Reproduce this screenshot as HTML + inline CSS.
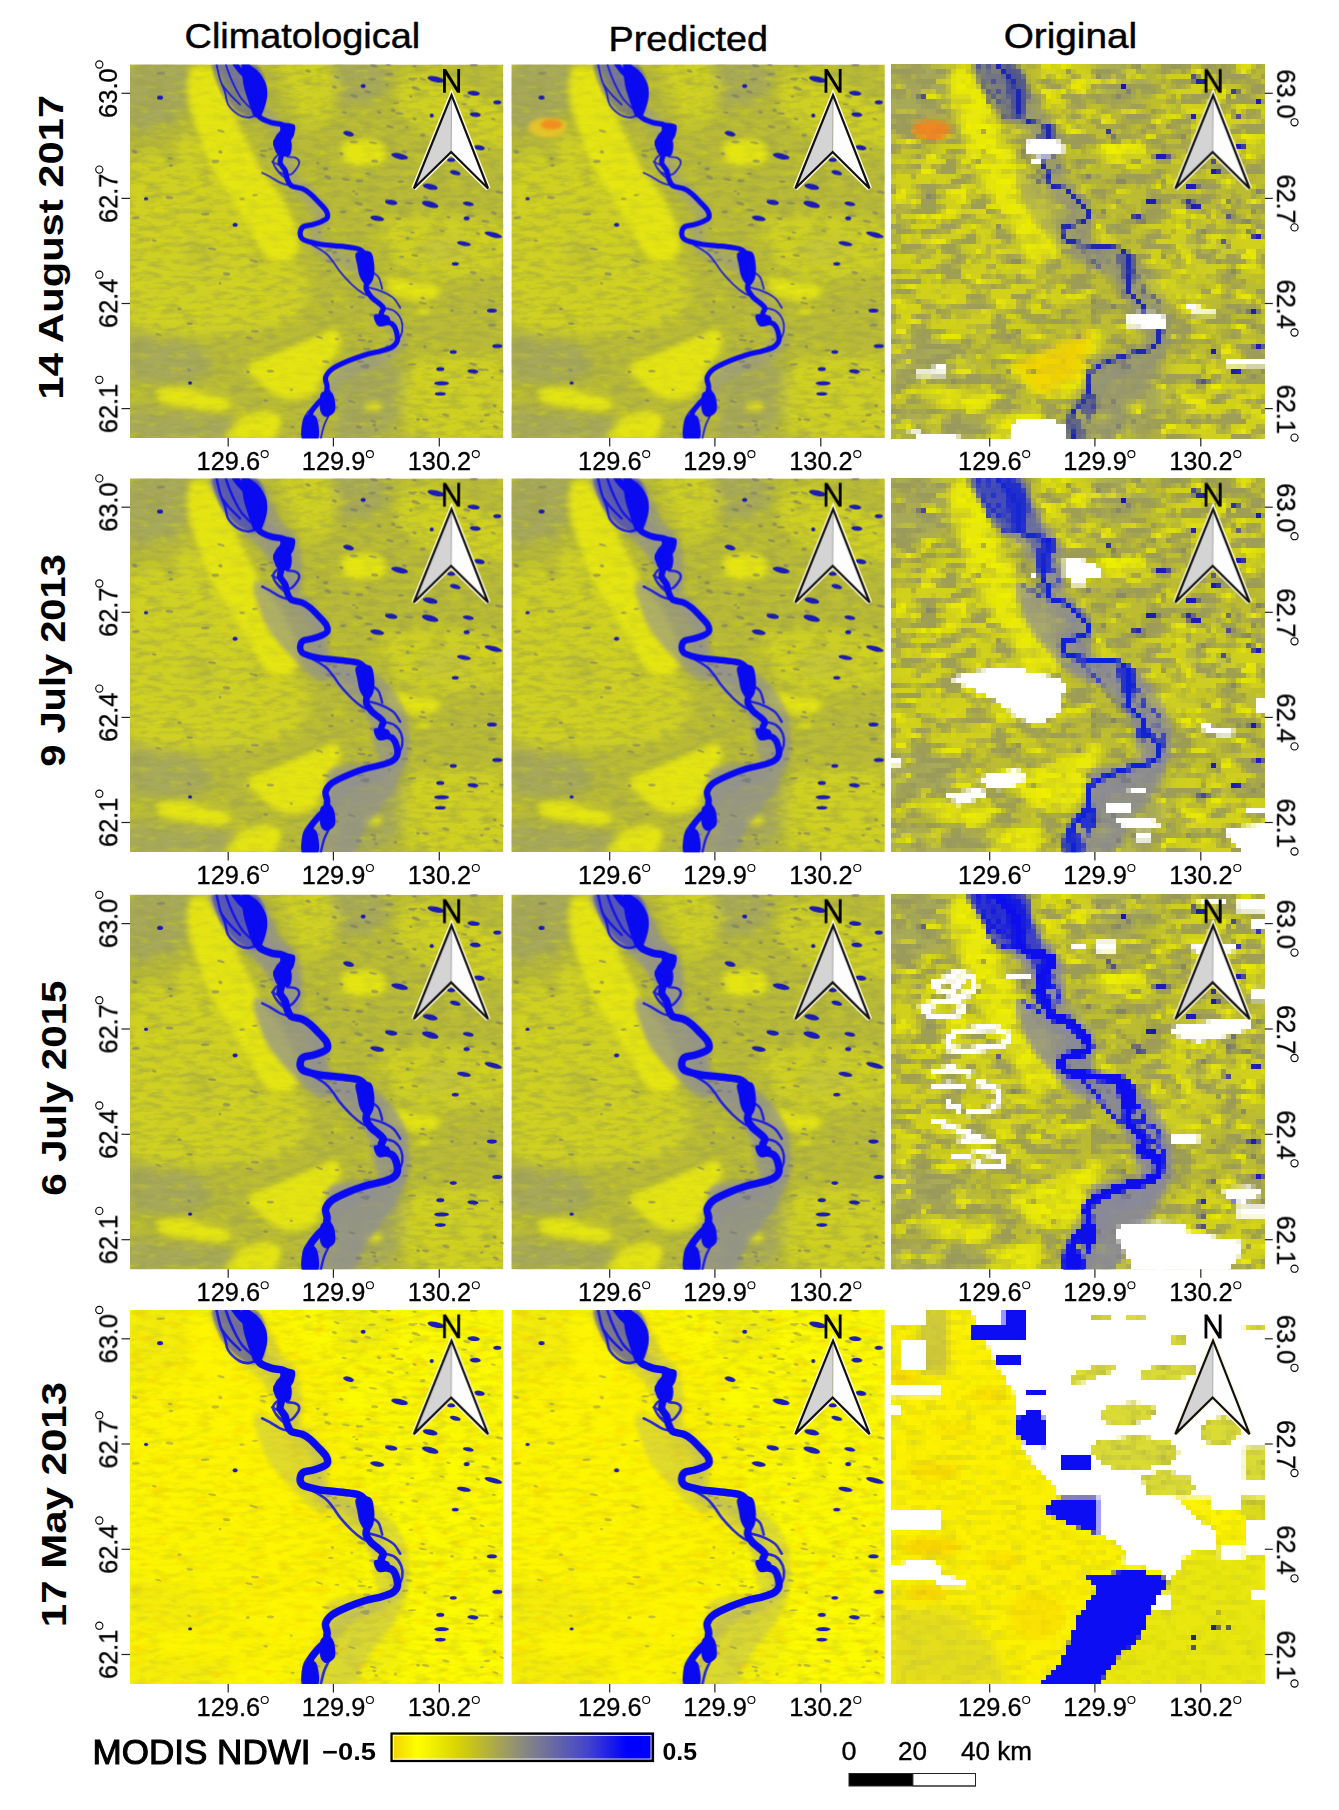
<!DOCTYPE html><html><head><meta charset="utf-8"><style>html,body{margin:0;padding:0;background:#fff;overflow:hidden;}svg{display:block;}</style></head><body>
<svg width="1339" height="1810" viewBox="0 0 1339 1810" style="font-family:'Liberation Sans',sans-serif">
<rect width="1339" height="1810" fill="#fff"/>
<defs>
<filter id="b0_6" x="-30%" y="-30%" width="160%" height="160%"><feGaussianBlur stdDeviation="0.6"/></filter>
<filter id="b1" x="-30%" y="-30%" width="160%" height="160%"><feGaussianBlur stdDeviation="1"/></filter>
<filter id="b1_5" x="-30%" y="-30%" width="160%" height="160%"><feGaussianBlur stdDeviation="1.5"/></filter>
<filter id="b2" x="-30%" y="-30%" width="160%" height="160%"><feGaussianBlur stdDeviation="2"/></filter>
<filter id="b3" x="-30%" y="-30%" width="160%" height="160%"><feGaussianBlur stdDeviation="3"/></filter>
<filter id="b4" x="-30%" y="-30%" width="160%" height="160%"><feGaussianBlur stdDeviation="4"/></filter>
<filter id="b6" x="-30%" y="-30%" width="160%" height="160%"><feGaussianBlur stdDeviation="6"/></filter>
<filter id="b8" x="-30%" y="-30%" width="160%" height="160%"><feGaussianBlur stdDeviation="8"/></filter>
<clipPath id="pc"><rect width="373" height="373"/></clipPath>
<path id="river" d="M104.0,-2.0 C105.0,-0.7 107.7,3.3 110.0,6.0 C112.3,8.7 115.5,11.0 118.0,14.0 C120.5,17.0 123.5,20.3 125.0,24.0 C126.5,27.7 126.7,32.3 127.0,36.0 C127.3,39.7 126.5,43.2 127.0,46.0 C127.5,48.8 127.7,51.0 130.0,53.0 C132.3,55.0 137.3,56.8 141.0,58.0 C144.7,59.2 149.2,59.0 152.0,60.0 C154.8,61.0 157.3,62.0 158.0,64.0 C158.7,66.0 157.0,69.3 156.0,72.0 C155.0,74.7 152.7,77.3 152.0,80.0 C151.3,82.7 152.3,85.0 152.0,88.0 C151.7,91.0 149.5,95.0 150.0,98.0 C150.5,101.0 153.8,103.3 155.0,106.0 C156.2,108.7 156.0,111.5 157.0,114.0 C158.0,116.5 158.5,119.3 161.0,121.0 C163.5,122.7 168.8,122.7 172.0,124.0 C175.2,125.3 177.3,126.8 180.0,129.0 C182.7,131.2 185.3,134.2 188.0,137.0 C190.7,139.8 194.5,143.3 196.0,146.0 C197.5,148.7 197.8,151.2 197.0,153.0 C196.2,154.8 193.5,155.8 191.0,157.0 C188.5,158.2 185.0,159.2 182.0,160.0 C179.0,160.8 175.0,160.7 173.0,162.0 C171.0,163.3 170.2,166.0 170.0,168.0 C169.8,170.0 170.5,172.5 172.0,174.0 C173.5,175.5 176.0,176.1 179.0,177.0 C182.0,177.9 185.7,178.8 190.0,179.5 C194.3,180.2 200.0,180.5 205.0,181.0 C210.0,181.5 215.8,181.9 220.0,182.6 C224.2,183.3 227.3,183.4 230.0,185.0 C232.7,186.6 234.7,188.7 236.0,192.0 C237.3,195.3 237.8,201.0 238.0,205.0 C238.2,209.0 237.3,212.8 237.0,216.0 C236.7,219.2 235.3,221.3 236.0,224.0 C236.7,226.7 239.2,229.8 241.0,232.0 C242.8,234.2 245.0,235.2 247.0,237.0 C249.0,238.8 252.3,241.0 253.0,243.0 C253.7,245.0 250.8,246.8 251.0,249.0 C251.2,251.2 252.2,254.3 254.0,256.0 C255.8,257.7 260.0,257.3 262.0,259.0 C264.0,260.7 265.2,263.2 266.0,266.0 C266.8,268.8 267.7,273.3 267.0,276.0 C266.3,278.7 264.7,280.3 262.0,282.0 C259.3,283.7 255.6,284.7 251.0,286.0 C246.4,287.3 240.0,288.3 234.5,290.0 C229.0,291.7 223.4,293.7 218.0,296.0 C212.6,298.3 205.8,301.2 202.0,304.0 C198.2,306.8 196.2,309.7 195.4,312.7 C194.6,315.7 197.1,318.9 197.0,322.0 C196.9,325.1 196.5,328.3 195.0,331.0 C193.5,333.7 190.3,335.3 188.0,338.0 C185.7,340.7 182.5,344.0 181.0,347.0 C179.5,350.0 179.2,353.2 179.0,356.0 C178.8,358.8 179.3,360.7 180.0,364.0 C180.7,367.3 182.5,374.0 183.0,376.0"/>
<g id="braids"><path d="M86.0,-2.0 C86.7,0.8 88.5,10.0 90.0,15.0 C91.5,20.0 93.7,23.8 95.0,28.0 C96.3,32.2 95.8,36.3 98.0,40.0 C100.2,43.7 104.7,47.8 108.0,50.0 C111.3,52.2 114.8,53.0 118.0,53.0 C121.2,53.0 125.5,50.5 127.0,50.0"/><path d="M95.0,-2.0 C95.8,0.3 98.2,7.5 100.0,12.0 C101.8,16.5 104.0,21.2 106.0,25.0 C108.0,28.8 109.5,31.8 112.0,35.0 C114.5,38.2 119.5,42.5 121.0,44.0"/><path d="M92.0,20.0 C93.3,21.7 97.0,26.7 100.0,30.0 C103.0,33.3 108.3,38.3 110.0,40.0"/><path d="M142.0,97.0 C143.0,97.5 146.2,99.3 148.0,100.0 C149.8,100.7 152.2,100.8 153.0,101.0"/><path d="M157.0,92.0 C158.3,92.2 163.0,92.2 165.0,93.0 C167.0,93.8 168.7,95.3 169.0,97.0 C169.3,98.7 168.5,100.8 167.0,103.0 C165.5,105.2 162.8,109.2 160.0,110.0 C157.2,110.8 152.3,109.0 150.0,108.0 C147.7,107.0 146.7,104.7 146.0,104.0"/><path d="M152.0,88.0 C151.0,88.7 147.5,90.3 146.0,92.0 C144.5,93.7 142.5,95.3 143.0,98.0 C143.5,100.7 146.8,105.3 149.0,108.0 C151.2,110.7 154.8,113.0 156.0,114.0"/><path d="M182.0,180.0 C184.2,181.3 191.5,185.2 195.0,188.0 C198.5,190.8 200.5,193.8 203.0,197.0 C205.5,200.2 206.8,203.2 210.0,207.0 C213.2,210.8 218.3,216.5 222.0,220.0 C225.7,223.5 228.8,226.0 232.0,228.0 C235.2,230.0 239.5,231.3 241.0,232.0"/><path d="M253.0,243.0 C254.8,243.5 261.0,244.0 264.0,246.0 C267.0,248.0 269.7,251.7 271.0,255.0 C272.3,258.3 272.5,262.5 272.0,266.0 C271.5,269.5 268.7,274.3 268.0,276.0"/><path d="M236.0,222.0 C238.3,222.7 245.5,224.2 250.0,226.0 C254.5,227.8 259.7,230.2 263.0,233.0 C266.3,235.8 268.8,241.3 270.0,243.0"/><path d="M238.0,205.0 C239.7,206.2 245.7,208.8 248.0,212.0 C250.3,215.2 251.3,222.0 252.0,224.0"/><path d="M197.0,322.0 C198.0,324.0 202.5,329.8 203.0,334.0 C203.5,338.2 201.5,342.7 200.0,347.0 C198.5,351.3 195.7,355.2 194.0,360.0 C192.3,364.8 190.7,373.3 190.0,376.0"/><path d="M188.0,338.0 C186.2,339.7 179.5,344.3 177.0,348.0 C174.5,351.7 173.2,355.3 173.0,360.0 C172.8,364.7 175.5,373.3 176.0,376.0"/><path d="M160.0,121.0 C158.3,120.5 153.3,119.5 150.0,118.0 C146.7,116.5 143.0,113.7 140.0,112.0 C137.0,110.3 133.3,108.7 132.0,108.0"/></g>
<g id="blobs"><path d="M112.0,-2.0 C113.5,-4.7 119.0,0.2 122.0,2.0 C125.0,3.8 127.7,6.0 130.0,9.0 C132.3,12.0 134.8,16.2 136.0,20.0 C137.2,23.8 137.3,28.0 137.0,32.0 C136.7,36.0 135.2,40.7 134.0,44.0 C132.8,47.3 131.7,50.7 130.0,52.0 C128.3,53.3 125.7,53.7 124.0,52.0 C122.3,50.3 121.3,45.7 120.0,42.0 C118.7,38.3 117.2,34.0 116.0,30.0 C114.8,26.0 113.7,23.3 113.0,18.0 C112.3,12.7 110.5,0.7 112.0,-2.0Z"/><path d="M151.0,59.0 C153.3,58.0 161.8,58.2 164.0,60.0 C166.2,61.8 164.7,67.0 164.0,70.0 C163.3,73.0 160.8,75.2 160.0,78.0 C159.2,80.8 160.7,85.3 159.0,87.0 C157.3,88.7 152.7,89.2 150.0,88.0 C147.3,86.8 143.7,82.8 143.0,80.0 C142.3,77.2 144.8,73.3 146.0,71.0 C147.2,68.7 149.2,68.0 150.0,66.0 C150.8,64.0 148.7,60.0 151.0,59.0Z"/><path d="M144.0,75.0 C146.5,73.2 157.3,72.5 160.0,75.0 C162.7,77.5 161.7,87.3 160.0,90.0 C158.3,92.7 152.5,91.7 150.0,91.0 C147.5,90.3 146.0,88.7 145.0,86.0 C144.0,83.3 141.5,76.8 144.0,75.0Z"/><path d="M226.0,188.0 C228.2,185.8 237.0,185.0 240.0,187.0 C243.0,189.0 243.5,195.5 244.0,200.0 C244.5,204.5 244.2,210.5 243.0,214.0 C241.8,217.5 239.2,221.2 237.0,221.0 C234.8,220.8 231.7,216.5 230.0,213.0 C228.3,209.5 227.7,204.2 227.0,200.0 C226.3,195.8 223.8,190.2 226.0,188.0Z"/><path d="M244.0,250.0 C245.7,248.3 255.5,249.5 258.0,251.0 C260.5,252.5 260.7,257.3 259.0,259.0 C257.3,260.7 250.5,262.5 248.0,261.0 C245.5,259.5 242.3,251.7 244.0,250.0Z"/><path d="M191.0,328.0 C193.0,325.2 199.7,325.2 202.0,328.0 C204.3,330.8 206.0,341.0 205.0,345.0 C204.0,349.0 198.5,352.0 196.0,352.0 C193.5,352.0 190.8,349.0 190.0,345.0 C189.2,341.0 189.0,330.8 191.0,328.0Z"/><path d="M174.0,352.0 C176.3,348.3 183.7,348.3 186.0,352.0 C188.3,355.7 190.3,370.3 188.0,374.0 C185.7,377.7 174.3,377.7 172.0,374.0 C169.7,370.3 171.7,355.7 174.0,352.0Z"/></g>
<g id="lakes"><ellipse cx="305.7" cy="14.7" rx="8.5" ry="2.8" transform="rotate(12 305.7 14.7)"/><ellipse cx="343.4" cy="28.6" rx="6.2" ry="2.3" transform="rotate(5 343.4 28.6)"/><ellipse cx="367" cy="37.7" rx="4" ry="2" transform="rotate(0 367 37.7)"/><ellipse cx="233" cy="21.6" rx="2.5" ry="2" transform="rotate(0 233 21.6)"/><ellipse cx="345" cy="50" rx="5.5" ry="2.3" transform="rotate(5 345 50)"/><ellipse cx="301.5" cy="51" rx="2" ry="2" transform="rotate(0 301.5 51)"/><ellipse cx="218.4" cy="69" rx="5.5" ry="2.5" transform="rotate(15 218.4 69)"/><ellipse cx="269.4" cy="91.5" rx="8.5" ry="2.8" transform="rotate(12 269.4 91.5)"/><ellipse cx="349" cy="83" rx="5.5" ry="2.5" transform="rotate(8 349 83)"/><ellipse cx="321" cy="95" rx="4" ry="2" transform="rotate(0 321 95)"/><ellipse cx="325" cy="108" rx="5.5" ry="2.2" transform="rotate(15 325 108)"/><ellipse cx="300" cy="122" rx="7.5" ry="2.8" transform="rotate(12 300 122)"/><ellipse cx="261" cy="137.6" rx="6.2" ry="2.5" transform="rotate(8 261 137.6)"/><ellipse cx="300" cy="139.7" rx="8.5" ry="3" transform="rotate(15 300 139.7)"/><ellipse cx="247" cy="153.6" rx="7" ry="2.5" transform="rotate(10 247 153.6)"/><ellipse cx="338" cy="139" rx="5.5" ry="2" transform="rotate(10 338 139)"/><ellipse cx="336.4" cy="153.6" rx="3" ry="2" transform="rotate(0 336.4 153.6)"/><ellipse cx="363" cy="170" rx="9" ry="2.5" transform="rotate(15 363 170)"/><ellipse cx="333.6" cy="178.8" rx="7" ry="2.2" transform="rotate(10 333.6 178.8)"/><ellipse cx="310" cy="304" rx="4" ry="2" transform="rotate(0 310 304)"/><ellipse cx="311.3" cy="318.3" rx="7.5" ry="2" transform="rotate(0 311.3 318.3)"/><ellipse cx="310" cy="328.8" rx="5.5" ry="1.8" transform="rotate(0 310 328.8)"/><ellipse cx="342.7" cy="306.4" rx="5.5" ry="2" transform="rotate(5 342.7 306.4)"/><ellipse cx="361.6" cy="245.7" rx="5" ry="2" transform="rotate(0 361.6 245.7)"/><ellipse cx="367" cy="281" rx="5" ry="2" transform="rotate(0 367 281)"/><ellipse cx="323" cy="287" rx="3.5" ry="1.8" transform="rotate(0 323 287)"/><ellipse cx="325" cy="199" rx="3.5" ry="1.8" transform="rotate(0 325 199)"/><ellipse cx="105" cy="160" rx="2.5" ry="2" transform="rotate(0 105 160)"/><ellipse cx="30" cy="33" rx="3" ry="2" transform="rotate(0 30 33)"/><ellipse cx="16" cy="134" rx="2" ry="1.6" transform="rotate(0 16 134)"/><ellipse cx="60" cy="318" rx="2" ry="1.6" transform="rotate(0 60 318)"/></g>
<g id="yellow"><path d="M60.0,6.0 C64.3,0.8 77.3,-1.7 84.0,4.0 C90.7,9.7 94.3,27.3 100.0,40.0 C105.7,52.7 112.3,68.7 118.0,80.0 C123.7,91.3 128.3,99.0 134.0,108.0 C139.7,117.0 146.8,125.0 152.0,134.0 C157.2,143.0 162.3,153.0 165.0,162.0 C167.7,171.0 170.2,182.0 168.0,188.0 C165.8,194.0 157.7,197.7 152.0,198.0 C146.3,198.3 139.3,195.5 134.0,190.0 C128.7,184.5 125.7,174.7 120.0,165.0 C114.3,155.3 106.7,143.2 100.0,132.0 C93.3,120.8 85.7,109.3 80.0,98.0 C74.3,86.7 69.7,74.5 66.0,64.0 C62.3,53.5 59.0,44.7 58.0,35.0 C57.0,25.3 55.7,11.2 60.0,6.0Z"/><path d="M116.0,303.0 C117.2,299.3 127.7,296.5 135.0,293.0 C142.3,289.5 151.3,285.7 160.0,282.0 C168.7,278.3 179.5,274.0 187.0,271.0 C194.5,268.0 201.2,263.3 205.0,264.0 C208.8,264.7 210.0,270.7 210.0,275.0 C210.0,279.3 207.5,285.0 205.0,290.0 C202.5,295.0 198.0,299.2 195.0,305.0 C192.0,310.8 191.2,320.2 187.0,325.0 C182.8,329.8 175.3,332.5 170.0,334.0 C164.7,335.5 160.0,335.2 155.0,334.0 C150.0,332.8 144.5,330.2 140.0,327.0 C135.5,323.8 132.0,319.0 128.0,315.0 C124.0,311.0 114.8,306.7 116.0,303.0Z"/><path d="M98.0,374.0 C91.7,371.7 100.3,364.2 104.0,360.0 C107.7,355.8 114.0,351.3 120.0,349.0 C126.0,346.7 135.0,345.5 140.0,346.0 C145.0,346.5 149.7,347.3 150.0,352.0 C150.3,356.7 150.7,370.3 142.0,374.0 C133.3,377.7 104.3,376.3 98.0,374.0Z"/><path d="M28.0,325.0 C31.7,323.0 42.2,321.5 50.0,322.0 C57.8,322.5 67.0,326.0 75.0,328.0 C83.0,330.0 94.5,331.0 98.0,334.0 C101.5,337.0 100.7,344.3 96.0,346.0 C91.3,347.7 78.5,345.0 70.0,344.0 C61.5,343.0 52.0,341.7 45.0,340.0 C38.0,338.3 30.8,336.5 28.0,334.0 C25.2,331.5 24.3,327.0 28.0,325.0Z"/><path d="M215.0,77.0 C220.7,73.7 243.8,74.5 250.0,78.0 C256.2,81.5 257.7,94.7 252.0,98.0 C246.3,101.3 222.2,101.5 216.0,98.0 C209.8,94.5 209.3,80.3 215.0,77.0Z"/><path d="M258.0,213.0 C262.5,211.8 277.0,216.7 285.0,218.0 C293.0,219.3 302.5,218.7 306.0,221.0 C309.5,223.3 308.7,229.5 306.0,232.0 C303.3,234.5 296.0,236.0 290.0,236.0 C284.0,236.0 275.3,233.8 270.0,232.0 C264.7,230.2 260.0,228.2 258.0,225.0 C256.0,221.8 253.5,214.2 258.0,213.0Z"/><path d="M288.0,244.0 C289.8,243.2 297.2,243.2 299.0,244.0 C300.8,244.8 300.8,248.2 299.0,249.0 C297.2,249.8 289.8,249.8 288.0,249.0 C286.2,248.2 286.2,244.8 288.0,244.0Z"/><path d="M236.0,338.0 C238.3,336.8 247.7,336.8 250.0,338.0 C252.3,339.2 252.3,343.8 250.0,345.0 C247.7,346.2 238.3,346.2 236.0,345.0 C233.7,343.8 233.7,339.2 236.0,338.0Z"/></g>
<g id="yellow2"><path d="M50.0,70.0 C55.0,66.7 67.5,72.5 75.0,80.0 C82.5,87.5 88.3,103.3 95.0,115.0 C101.7,126.7 109.2,138.3 115.0,150.0 C120.8,161.7 130.8,177.0 130.0,185.0 C129.2,193.0 118.3,197.2 110.0,198.0 C101.7,198.8 88.3,195.5 80.0,190.0 C71.7,184.5 65.3,175.0 60.0,165.0 C54.7,155.0 50.5,140.8 48.0,130.0 C45.5,119.2 44.7,110.0 45.0,100.0 C45.3,90.0 45.0,73.3 50.0,70.0Z"/><path d="M0.0,95.0 C6.7,76.8 30.3,93.5 40.0,96.0 C49.7,98.5 54.7,101.0 58.0,110.0 C61.3,119.0 59.7,136.7 60.0,150.0 C60.3,163.3 63.3,180.8 60.0,190.0 C56.7,199.2 50.0,202.5 40.0,205.0 C30.0,207.5 6.7,223.3 0.0,205.0 C-6.7,186.7 -6.7,113.2 0.0,95.0Z"/><path d="M0.0,205.0 C10.0,195.0 43.3,201.5 60.0,200.0 C76.7,198.5 83.3,196.3 100.0,196.0 C116.7,195.7 146.7,194.8 160.0,198.0 C173.3,201.2 178.3,206.3 180.0,215.0 C181.7,223.7 175.0,242.2 170.0,250.0 C165.0,257.8 160.0,259.0 150.0,262.0 C140.0,265.0 125.0,266.7 110.0,268.0 C95.0,269.3 75.0,270.0 60.0,270.0 C45.0,270.0 30.0,269.7 20.0,268.0 C10.0,266.3 3.3,270.5 0.0,260.0 C-3.3,249.5 -10.0,215.0 0.0,205.0Z"/><path d="M150.0,0.0 C154.2,-10.0 190.0,-5.0 200.0,0.0 C210.0,5.0 210.8,20.8 210.0,30.0 C209.2,39.2 200.8,50.0 195.0,55.0 C189.2,60.0 182.5,69.2 175.0,60.0 C167.5,50.8 145.8,10.0 150.0,0.0Z"/><path d="M270.0,10.0 C275.0,3.0 290.0,6.7 300.0,8.0 C310.0,9.3 321.7,14.3 330.0,18.0 C338.3,21.7 342.8,26.3 350.0,30.0 C357.2,33.7 369.2,31.7 373.0,40.0 C376.8,48.3 378.5,71.7 373.0,80.0 C367.5,88.3 352.2,91.7 340.0,90.0 C327.8,88.3 311.7,76.7 300.0,70.0 C288.3,63.3 275.0,60.0 270.0,50.0 C265.0,40.0 265.0,17.0 270.0,10.0Z"/><path d="M250.0,160.0 C255.0,150.8 279.5,150.0 300.0,150.0 C320.5,150.0 360.8,151.7 373.0,160.0 C385.2,168.3 381.8,190.8 373.0,200.0 C364.2,209.2 337.2,214.2 320.0,215.0 C302.8,215.8 281.7,214.2 270.0,205.0 C258.3,195.8 245.0,169.2 250.0,160.0Z"/><path d="M280.0,300.0 C290.0,291.7 314.5,290.0 330.0,290.0 C345.5,290.0 365.8,286.2 373.0,300.0 C380.2,313.8 386.8,360.8 373.0,373.0 C359.2,385.2 307.2,378.5 290.0,373.0 C272.8,367.5 271.7,352.2 270.0,340.0 C268.3,327.8 270.0,308.3 280.0,300.0Z"/></g>
<g id="gray"><path d="M0.0,0.0 C9.7,-10.7 48.0,-5.0 58.0,0.0 C68.0,5.0 61.0,20.8 60.0,30.0 C59.0,39.2 57.0,49.7 52.0,55.0 C47.0,60.3 38.7,60.5 30.0,62.0 C21.3,63.5 5.0,74.3 0.0,64.0 C-5.0,53.7 -9.7,10.7 0.0,0.0Z"/><path d="M0.0,345.0 C6.7,340.8 24.0,346.8 40.0,348.0 C56.0,349.2 86.0,347.8 96.0,352.0 C106.0,356.2 116.0,369.5 100.0,373.0 C84.0,376.5 16.7,377.7 0.0,373.0 C-16.7,368.3 -6.7,349.2 0.0,345.0Z"/><path d="M0.0,270.0 C6.7,263.3 26.7,268.7 40.0,272.0 C53.3,275.3 75.0,282.8 80.0,290.0 C85.0,297.2 78.3,310.3 70.0,315.0 C61.7,319.7 41.7,318.5 30.0,318.0 C18.3,317.5 5.0,320.0 0.0,312.0 C-5.0,304.0 -6.7,276.7 0.0,270.0Z"/><path d="M200.0,0.0 C206.7,-6.7 240.0,-3.3 250.0,0.0 C260.0,3.3 261.7,13.3 260.0,20.0 C258.3,26.7 248.3,36.7 240.0,40.0 C231.7,43.3 216.7,46.7 210.0,40.0 C203.3,33.3 193.3,6.7 200.0,0.0Z"/><path d="M290.0,175.0 C295.0,170.0 321.7,167.5 330.0,170.0 C338.3,172.5 345.0,185.0 340.0,190.0 C335.0,195.0 308.3,202.5 300.0,200.0 C291.7,197.5 285.0,180.0 290.0,175.0Z"/><path d="M215.0,300.0 C223.3,292.5 249.2,290.0 260.0,295.0 C270.8,300.0 281.7,317.0 280.0,330.0 C278.3,343.0 262.5,365.8 250.0,373.0 C237.5,380.2 211.7,378.5 205.0,373.0 C198.3,367.5 208.3,352.2 210.0,340.0 C211.7,327.8 206.7,307.5 215.0,300.0Z"/></g>
<path id="flood" d="M95.0,0.0 C97.8,3.3 106.2,12.5 112.0,20.0 C117.8,27.5 123.7,37.5 130.0,45.0 C136.3,52.5 145.7,57.5 150.0,65.0 C154.3,72.5 154.3,82.2 156.0,90.0 C157.7,97.8 156.3,105.3 160.0,112.0 C163.7,118.7 172.7,123.7 178.0,130.0 C183.3,136.3 190.8,144.2 192.0,150.0 C193.2,155.8 185.3,159.7 185.0,165.0 C184.7,170.3 185.0,177.0 190.0,182.0 C195.0,187.0 207.3,190.3 215.0,195.0 C222.7,199.7 230.5,203.3 236.0,210.0 C241.5,216.7 243.7,227.5 248.0,235.0 C252.3,242.5 258.7,248.3 262.0,255.0 C265.3,261.7 269.2,269.2 268.0,275.0 C266.8,280.8 261.3,285.8 255.0,290.0 C248.7,294.2 237.8,296.3 230.0,300.0 C222.2,303.7 213.0,307.0 208.0,312.0 C203.0,317.0 203.3,323.7 200.0,330.0 C196.7,336.3 190.5,342.8 188.0,350.0 C185.5,357.2 185.5,369.2 185.0,373.0"/>
<g id="specks"><ellipse cx="221.7" cy="242.1" rx="1.7" ry="1.3" transform="rotate(4 221.7 242.1)"/><ellipse cx="284.8" cy="13.9" rx="2.8" ry="0.9" transform="rotate(-3 284.8 13.9)"/><ellipse cx="341.4" cy="46.1" rx="2.2" ry="1.3" transform="rotate(19 341.4 46.1)"/><ellipse cx="265.2" cy="363.2" rx="1.6" ry="1.5" transform="rotate(2 265.2 363.2)"/><ellipse cx="215.8" cy="114.8" rx="3.9" ry="1.0" transform="rotate(10 215.8 114.8)"/><ellipse cx="260.9" cy="203.8" rx="1.7" ry="0.9" transform="rotate(0 260.9 203.8)"/><ellipse cx="270.7" cy="116.9" rx="3.3" ry="1.2" transform="rotate(2 270.7 116.9)"/><ellipse cx="132.8" cy="90.8" rx="3.2" ry="1.3" transform="rotate(17 132.8 90.8)"/><ellipse cx="246.0" cy="364.6" rx="1.9" ry="1.2" transform="rotate(14 246.0 364.6)"/><ellipse cx="281.5" cy="14.6" rx="3.5" ry="1.4" transform="rotate(9 281.5 14.6)"/><ellipse cx="59.6" cy="258.6" rx="3.3" ry="1.3" transform="rotate(6 59.6 258.6)"/><ellipse cx="179.5" cy="176.4" rx="3.5" ry="0.9" transform="rotate(13 179.5 176.4)"/><ellipse cx="370.8" cy="305.8" rx="2.4" ry="1.2" transform="rotate(12 370.8 305.8)"/><ellipse cx="276.7" cy="62.5" rx="1.9" ry="0.9" transform="rotate(14 276.7 62.5)"/><ellipse cx="238.8" cy="145.4" rx="4.1" ry="1.0" transform="rotate(6 238.8 145.4)"/><ellipse cx="351.4" cy="304.8" rx="4.1" ry="1.1" transform="rotate(5 351.4 304.8)"/><ellipse cx="351.5" cy="356.3" rx="2.0" ry="1.0" transform="rotate(1 351.5 356.3)"/><ellipse cx="280.8" cy="219.2" rx="2.3" ry="0.9" transform="rotate(5 280.8 219.2)"/><ellipse cx="295.2" cy="354.6" rx="3.6" ry="1.3" transform="rotate(10 295.2 354.6)"/><ellipse cx="204.6" cy="334.6" rx="3.8" ry="1.5" transform="rotate(15 204.6 334.6)"/><ellipse cx="265.6" cy="38.5" rx="3.4" ry="0.9" transform="rotate(-3 265.6 38.5)"/><ellipse cx="223.7" cy="126.5" rx="1.7" ry="0.9" transform="rotate(-1 223.7 126.5)"/><ellipse cx="259.4" cy="9.5" rx="4.1" ry="1.3" transform="rotate(-1 259.4 9.5)"/><ellipse cx="256.5" cy="135.5" rx="1.9" ry="1.5" transform="rotate(20 256.5 135.5)"/><ellipse cx="280.6" cy="31.9" rx="1.8" ry="1.1" transform="rotate(2 280.6 31.9)"/><ellipse cx="30.7" cy="8.6" rx="4.4" ry="1.3" transform="rotate(-1 30.7 8.6)"/><ellipse cx="199.8" cy="196.5" rx="4.4" ry="1.5" transform="rotate(12 199.8 196.5)"/><ellipse cx="259.9" cy="62.1" rx="3.8" ry="1.3" transform="rotate(14 259.9 62.1)"/><ellipse cx="234.5" cy="301.9" rx="4.5" ry="1.5" transform="rotate(15 234.5 301.9)"/><ellipse cx="140.6" cy="84.3" rx="3.1" ry="1.1" transform="rotate(-4 140.6 84.3)"/><ellipse cx="244.5" cy="96.4" rx="3.6" ry="1.6" transform="rotate(6 244.5 96.4)"/><ellipse cx="187.7" cy="355.3" rx="2.6" ry="1.1" transform="rotate(1 187.7 355.3)"/><ellipse cx="231.2" cy="232.2" rx="4.2" ry="1.5" transform="rotate(7 231.2 232.2)"/><ellipse cx="336.5" cy="31.5" rx="3.5" ry="1.5" transform="rotate(15 336.5 31.5)"/><ellipse cx="90.8" cy="66.4" rx="3.9" ry="1.1" transform="rotate(15 90.8 66.4)"/><ellipse cx="75.2" cy="149.3" rx="4.3" ry="1.4" transform="rotate(-1 75.2 149.3)"/><ellipse cx="221.8" cy="336.6" rx="3.9" ry="1.0" transform="rotate(16 221.8 336.6)"/><ellipse cx="124.9" cy="130.4" rx="3.1" ry="1.0" transform="rotate(-5 124.9 130.4)"/><ellipse cx="123.4" cy="195.9" rx="4.3" ry="1.2" transform="rotate(17 123.4 195.9)"/><ellipse cx="40.1" cy="93.7" rx="2.4" ry="1.1" transform="rotate(10 40.1 93.7)"/><ellipse cx="269.2" cy="48.8" rx="4.2" ry="1.1" transform="rotate(6 269.2 48.8)"/><ellipse cx="355.1" cy="156.5" rx="4.3" ry="1.3" transform="rotate(8 355.1 156.5)"/><ellipse cx="198.3" cy="163.7" rx="2.0" ry="0.9" transform="rotate(15 198.3 163.7)"/><ellipse cx="278.8" cy="269.8" rx="3.2" ry="1.1" transform="rotate(8 278.8 269.8)"/><ellipse cx="333.8" cy="39.5" rx="3.2" ry="1.1" transform="rotate(2 333.8 39.5)"/><ellipse cx="96.5" cy="209.0" rx="3.8" ry="1.5" transform="rotate(6 96.5 209.0)"/><ellipse cx="284.5" cy="190.5" rx="3.6" ry="1.2" transform="rotate(8 284.5 190.5)"/><ellipse cx="361.6" cy="260.1" rx="4.1" ry="1.6" transform="rotate(1 361.6 260.1)"/><ellipse cx="362.0" cy="312.5" rx="1.9" ry="1.0" transform="rotate(6 362.0 312.5)"/><ellipse cx="237.6" cy="27.2" rx="3.5" ry="1.4" transform="rotate(17 237.6 27.2)"/><ellipse cx="321.8" cy="245.6" rx="1.9" ry="1.5" transform="rotate(19 321.8 245.6)"/><ellipse cx="363.6" cy="148.2" rx="3.0" ry="1.6" transform="rotate(16 363.6 148.2)"/><ellipse cx="271.4" cy="191.8" rx="2.5" ry="1.0" transform="rotate(3 271.4 191.8)"/><ellipse cx="198.4" cy="206.1" rx="2.8" ry="0.9" transform="rotate(3 198.4 206.1)"/><ellipse cx="285.7" cy="23.9" rx="4.5" ry="1.5" transform="rotate(19 285.7 23.9)"/><ellipse cx="242.0" cy="14.7" rx="3.8" ry="1.1" transform="rotate(-2 242.0 14.7)"/><ellipse cx="356.3" cy="304.7" rx="2.3" ry="1.0" transform="rotate(18 356.3 304.7)"/><ellipse cx="319.0" cy="33.3" rx="1.7" ry="1.4" transform="rotate(6 319.0 33.3)"/><ellipse cx="361.1" cy="236.0" rx="3.9" ry="1.0" transform="rotate(16 361.1 236.0)"/><ellipse cx="347.7" cy="168.8" rx="2.5" ry="1.3" transform="rotate(18 347.7 168.8)"/><ellipse cx="217.9" cy="196.0" rx="2.2" ry="1.0" transform="rotate(-1 217.9 196.0)"/><ellipse cx="230.7" cy="116.1" rx="2.4" ry="1.4" transform="rotate(2 230.7 116.1)"/><ellipse cx="226.5" cy="129.1" rx="1.6" ry="1.1" transform="rotate(-5 226.5 129.1)"/><ellipse cx="292.5" cy="70.5" rx="2.9" ry="1.6" transform="rotate(-2 292.5 70.5)"/><ellipse cx="82.1" cy="184.1" rx="4.0" ry="1.2" transform="rotate(8 82.1 184.1)"/><ellipse cx="368.9" cy="127.5" rx="4.0" ry="1.4" transform="rotate(11 368.9 127.5)"/><ellipse cx="256.5" cy="20.2" rx="1.9" ry="0.9" transform="rotate(14 256.5 20.2)"/><ellipse cx="223.9" cy="31.4" rx="4.0" ry="1.5" transform="rotate(12 223.9 31.4)"/><ellipse cx="237.9" cy="109.0" rx="2.9" ry="1.0" transform="rotate(6 237.9 109.0)"/><ellipse cx="365.2" cy="361.8" rx="3.1" ry="1.1" transform="rotate(19 365.2 361.8)"/><ellipse cx="258.1" cy="0.4" rx="2.6" ry="1.2" transform="rotate(8 258.1 0.4)"/><ellipse cx="284.3" cy="1.8" rx="2.3" ry="1.0" transform="rotate(5 284.3 1.8)"/><ellipse cx="199.0" cy="113.2" rx="2.2" ry="1.3" transform="rotate(8 199.0 113.2)"/><ellipse cx="124.9" cy="266.3" rx="4.1" ry="1.2" transform="rotate(3 124.9 266.3)"/><ellipse cx="28.4" cy="269.4" rx="3.4" ry="0.9" transform="rotate(16 28.4 269.4)"/><ellipse cx="119.2" cy="273.0" rx="3.9" ry="1.0" transform="rotate(8 119.2 273.0)"/><ellipse cx="342.8" cy="299.3" rx="4.0" ry="1.3" transform="rotate(17 342.8 299.3)"/><ellipse cx="317.7" cy="85.5" rx="1.6" ry="1.0" transform="rotate(4 317.7 85.5)"/><ellipse cx="342.9" cy="207.8" rx="3.4" ry="1.3" transform="rotate(12 342.9 207.8)"/><ellipse cx="195.6" cy="296.7" rx="3.7" ry="1.3" transform="rotate(8 195.6 296.7)"/><ellipse cx="206.7" cy="274.1" rx="2.3" ry="1.0" transform="rotate(2 206.7 274.1)"/><ellipse cx="231.3" cy="275.2" rx="4.4" ry="1.2" transform="rotate(5 231.3 275.2)"/><ellipse cx="316.0" cy="285.3" rx="3.4" ry="1.3" transform="rotate(-3 316.0 285.3)"/><ellipse cx="239.9" cy="276.5" rx="2.4" ry="1.3" transform="rotate(-5 239.9 276.5)"/><ellipse cx="242.6" cy="250.0" rx="3.6" ry="1.4" transform="rotate(2 242.6 250.0)"/><ellipse cx="277.2" cy="173.5" rx="1.9" ry="1.5" transform="rotate(0 277.2 173.5)"/><ellipse cx="177.9" cy="6.5" rx="2.9" ry="1.5" transform="rotate(19 177.9 6.5)"/><ellipse cx="242.6" cy="78.1" rx="4.3" ry="1.0" transform="rotate(10 242.6 78.1)"/><ellipse cx="287.8" cy="354.4" rx="1.9" ry="1.5" transform="rotate(8 287.8 354.4)"/><ellipse cx="133.6" cy="86.1" rx="4.2" ry="1.2" transform="rotate(-4 133.6 86.1)"/><ellipse cx="282.0" cy="167.7" rx="2.4" ry="1.0" transform="rotate(4 282.0 167.7)"/><ellipse cx="343.7" cy="0.6" rx="3.8" ry="1.5" transform="rotate(-2 343.7 0.6)"/><ellipse cx="135.5" cy="335.4" rx="2.4" ry="1.2" transform="rotate(5 135.5 335.4)"/><ellipse cx="111.9" cy="134.2" rx="2.8" ry="1.1" transform="rotate(-4 111.9 134.2)"/><ellipse cx="342.7" cy="106.3" rx="4.3" ry="1.1" transform="rotate(2 342.7 106.3)"/><ellipse cx="228.6" cy="138.9" rx="4.4" ry="1.5" transform="rotate(15 228.6 138.9)"/><ellipse cx="356.7" cy="349.9" rx="3.1" ry="1.4" transform="rotate(-4 356.7 349.9)"/><ellipse cx="274.8" cy="280.0" rx="3.4" ry="1.1" transform="rotate(-4 274.8 280.0)"/><ellipse cx="24.2" cy="175.7" rx="2.5" ry="1.1" transform="rotate(13 24.2 175.7)"/><ellipse cx="49.4" cy="244.0" rx="2.4" ry="1.3" transform="rotate(5 49.4 244.0)"/><ellipse cx="223.6" cy="77.3" rx="4.2" ry="1.2" transform="rotate(1 223.6 77.3)"/><ellipse cx="189.3" cy="167.4" rx="1.9" ry="1.0" transform="rotate(-3 189.3 167.4)"/><ellipse cx="211.1" cy="89.0" rx="2.3" ry="1.3" transform="rotate(17 211.1 89.0)"/><ellipse cx="268.1" cy="154.0" rx="3.1" ry="1.2" transform="rotate(3 268.1 154.0)"/><ellipse cx="244.1" cy="360.0" rx="1.9" ry="1.3" transform="rotate(11 244.1 360.0)"/><ellipse cx="41.0" cy="100.8" rx="2.2" ry="1.2" transform="rotate(6 41.0 100.8)"/><ellipse cx="161.2" cy="324.7" rx="1.6" ry="0.9" transform="rotate(13 161.2 324.7)"/><ellipse cx="89.9" cy="218.4" rx="1.5" ry="1.2" transform="rotate(18 89.9 218.4)"/><ellipse cx="162.5" cy="361.7" rx="2.2" ry="1.0" transform="rotate(-1 162.5 361.7)"/><ellipse cx="315.7" cy="350.2" rx="3.7" ry="1.4" transform="rotate(14 315.7 350.2)"/><ellipse cx="292.6" cy="14.7" rx="3.8" ry="1.1" transform="rotate(18 292.6 14.7)"/><ellipse cx="248.8" cy="47.6" rx="2.3" ry="1.3" transform="rotate(12 248.8 47.6)"/><ellipse cx="207.5" cy="195.1" rx="3.2" ry="1.2" transform="rotate(1 207.5 195.1)"/><ellipse cx="196.9" cy="112.2" rx="2.9" ry="1.6" transform="rotate(11 196.9 112.2)"/><ellipse cx="90.3" cy="87.3" rx="2.2" ry="1.6" transform="rotate(13 90.3 87.3)"/><ellipse cx="198.9" cy="185.4" rx="3.5" ry="1.2" transform="rotate(1 198.9 185.4)"/><ellipse cx="358.8" cy="84.4" rx="1.6" ry="1.1" transform="rotate(6 358.8 84.4)"/><ellipse cx="230.1" cy="296.5" rx="3.7" ry="1.3" transform="rotate(0 230.1 296.5)"/><ellipse cx="59.2" cy="305.0" rx="2.2" ry="1.1" transform="rotate(14 59.2 305.0)"/><ellipse cx="363.5" cy="184.4" rx="2.1" ry="1.1" transform="rotate(5 363.5 184.4)"/><ellipse cx="362.9" cy="54.5" rx="2.7" ry="1.0" transform="rotate(19 362.9 54.5)"/><ellipse cx="204.2" cy="22.4" rx="2.7" ry="1.5" transform="rotate(17 204.2 22.4)"/><ellipse cx="371.6" cy="346.6" rx="2.5" ry="1.0" transform="rotate(18 371.6 346.6)"/><ellipse cx="200.6" cy="247.2" rx="2.6" ry="1.2" transform="rotate(3 200.6 247.2)"/><ellipse cx="195.5" cy="104.1" rx="2.6" ry="1.6" transform="rotate(-2 195.5 104.1)"/><ellipse cx="39.4" cy="132.7" rx="4.0" ry="1.5" transform="rotate(6 39.4 132.7)"/><ellipse cx="278.8" cy="138.6" rx="4.3" ry="1.0" transform="rotate(4 278.8 138.6)"/><ellipse cx="5.8" cy="152.8" rx="3.9" ry="1.4" transform="rotate(-4 5.8 152.8)"/><ellipse cx="206.1" cy="342.3" rx="2.3" ry="1.4" transform="rotate(17 206.1 342.3)"/><ellipse cx="243.2" cy="356.3" rx="3.4" ry="1.1" transform="rotate(13 243.2 356.3)"/><ellipse cx="243.8" cy="1.4" rx="3.8" ry="1.5" transform="rotate(11 243.8 1.4)"/><ellipse cx="4.6" cy="87.0" rx="2.9" ry="1.6" transform="rotate(19 4.6 87.0)"/><ellipse cx="239.4" cy="159.9" rx="3.0" ry="1.5" transform="rotate(0 239.4 159.9)"/><ellipse cx="140.3" cy="306.1" rx="3.8" ry="1.3" transform="rotate(3 140.3 306.1)"/><ellipse cx="259.0" cy="291.0" rx="1.7" ry="1.0" transform="rotate(14 259.0 291.0)"/><ellipse cx="206.5" cy="12.6" rx="3.2" ry="1.1" transform="rotate(20 206.5 12.6)"/><ellipse cx="187.7" cy="98.5" rx="1.8" ry="1.0" transform="rotate(7 187.7 98.5)"/><ellipse cx="274.1" cy="87.1" rx="2.8" ry="1.3" transform="rotate(12 274.1 87.1)"/><ellipse cx="344.9" cy="247.2" rx="1.9" ry="1.5" transform="rotate(2 344.9 247.2)"/><ellipse cx="261.0" cy="274.6" rx="2.1" ry="1.1" transform="rotate(1 261.0 274.6)"/><ellipse cx="351.5" cy="215.1" rx="2.5" ry="1.2" transform="rotate(20 351.5 215.1)"/><ellipse cx="236.0" cy="300.7" rx="3.5" ry="1.6" transform="rotate(-2 236.0 300.7)"/><ellipse cx="340.0" cy="312.7" rx="4.2" ry="0.9" transform="rotate(2 340.0 312.7)"/><ellipse cx="228.6" cy="361.9" rx="3.2" ry="1.6" transform="rotate(4 228.6 361.9)"/><ellipse cx="85.3" cy="96.7" rx="3.8" ry="1.6" transform="rotate(-2 85.3 96.7)"/><ellipse cx="304.7" cy="81.0" rx="2.6" ry="1.0" transform="rotate(0 304.7 81.0)"/><ellipse cx="301.1" cy="242.4" rx="2.1" ry="0.9" transform="rotate(3 301.1 242.4)"/><ellipse cx="227.8" cy="116.1" rx="2.1" ry="1.5" transform="rotate(9 227.8 116.1)"/><ellipse cx="212.9" cy="147.1" rx="3.2" ry="1.3" transform="rotate(-3 212.9 147.1)"/><ellipse cx="318.1" cy="152.4" rx="2.3" ry="1.1" transform="rotate(19 318.1 152.4)"/><ellipse cx="295.3" cy="132.9" rx="2.7" ry="1.5" transform="rotate(20 295.3 132.9)"/><ellipse cx="229.9" cy="270.8" rx="2.1" ry="0.9" transform="rotate(18 229.9 270.8)"/><ellipse cx="340.2" cy="151.1" rx="4.1" ry="1.2" transform="rotate(-1 340.2 151.1)"/><ellipse cx="292.6" cy="238.3" rx="4.2" ry="1.0" transform="rotate(11 292.6 238.3)"/><ellipse cx="284.3" cy="54.3" rx="2.3" ry="1.3" transform="rotate(18 284.3 54.3)"/><ellipse cx="281.8" cy="299.4" rx="4.4" ry="1.0" transform="rotate(-2 281.8 299.4)"/><ellipse cx="185.4" cy="179.6" rx="1.7" ry="1.5" transform="rotate(5 185.4 179.6)"/><ellipse cx="117.9" cy="306.7" rx="2.0" ry="1.5" transform="rotate(1 117.9 306.7)"/><ellipse cx="344.8" cy="308.5" rx="2.0" ry="1.1" transform="rotate(5 344.8 308.5)"/><ellipse cx="262.9" cy="45.8" rx="2.2" ry="1.4" transform="rotate(17 262.9 45.8)"/><ellipse cx="294.5" cy="281.8" rx="1.6" ry="1.5" transform="rotate(-2 294.5 281.8)"/><ellipse cx="292.4" cy="233.3" rx="2.4" ry="1.2" transform="rotate(10 292.4 233.3)"/><ellipse cx="311.6" cy="166.2" rx="2.8" ry="0.9" transform="rotate(10 311.6 166.2)"/><ellipse cx="236.6" cy="284.0" rx="3.8" ry="1.2" transform="rotate(-1 236.6 284.0)"/><ellipse cx="214.0" cy="47.8" rx="2.8" ry="1.0" transform="rotate(6 214.0 47.8)"/><ellipse cx="202.2" cy="236.8" rx="1.7" ry="1.4" transform="rotate(14 202.2 236.8)"/><ellipse cx="204.6" cy="187.5" rx="2.6" ry="1.6" transform="rotate(-2 204.6 187.5)"/><ellipse cx="189.3" cy="272.3" rx="3.9" ry="1.0" transform="rotate(20 189.3 272.3)"/><ellipse cx="364.3" cy="340.8" rx="2.0" ry="1.5" transform="rotate(18 364.3 340.8)"/><ellipse cx="257.1" cy="281.3" rx="2.0" ry="1.5" transform="rotate(2 257.1 281.3)"/></g>
<g id="flood2"><path d="M80.0,0.0 C85.8,-4.2 115.0,-3.3 125.0,0.0 C135.0,3.3 135.8,13.0 140.0,20.0 C144.2,27.0 145.7,35.7 150.0,42.0 C154.3,48.3 162.3,50.3 166.0,58.0 C169.7,65.7 171.3,79.0 172.0,88.0 C172.7,97.0 172.0,108.0 170.0,112.0 C168.0,116.0 163.3,114.0 160.0,112.0 C156.7,110.0 153.7,105.3 150.0,100.0 C146.3,94.7 142.7,86.3 138.0,80.0 C133.3,73.7 127.7,67.7 122.0,62.0 C116.3,56.3 109.3,52.2 104.0,46.0 C98.7,39.8 94.0,32.7 90.0,25.0 C86.0,17.3 74.2,4.2 80.0,0.0Z"/><path d="M124.0,104.0 C127.0,99.7 142.0,108.0 150.0,112.0 C158.0,116.0 165.0,122.3 172.0,128.0 C179.0,133.7 187.7,139.0 192.0,146.0 C196.3,153.0 196.7,161.0 198.0,170.0 C199.3,179.0 202.2,195.0 200.0,200.0 C197.8,205.0 190.8,203.0 185.0,200.0 C179.2,197.0 171.7,188.7 165.0,182.0 C158.3,175.3 150.5,167.3 145.0,160.0 C139.5,152.7 135.5,147.3 132.0,138.0 C128.5,128.7 121.0,108.3 124.0,104.0Z"/><path d="M196.0,182.0 C199.3,178.8 216.0,183.3 225.0,186.0 C234.0,188.7 242.5,192.0 250.0,198.0 C257.5,204.0 265.2,213.3 270.0,222.0 C274.8,230.7 278.7,240.3 279.0,250.0 C279.3,259.7 275.8,273.3 272.0,280.0 C268.2,286.7 260.5,291.7 256.0,290.0 C251.5,288.3 247.7,277.5 245.0,270.0 C242.3,262.5 243.3,253.0 240.0,245.0 C236.7,237.0 230.8,228.7 225.0,222.0 C219.2,215.3 209.8,211.7 205.0,205.0 C200.2,198.3 192.7,185.2 196.0,182.0Z"/><path d="M200.0,290.0 C207.0,284.8 229.0,287.0 240.0,284.0 C251.0,281.0 259.5,276.7 266.0,272.0 C272.5,267.3 277.3,253.8 279.0,256.0 C280.7,258.2 278.5,276.0 276.0,285.0 C273.5,294.0 268.7,302.2 264.0,310.0 C259.3,317.8 253.3,324.5 248.0,332.0 C242.7,339.5 236.3,348.0 232.0,355.0 C227.7,362.0 229.7,370.8 222.0,374.0 C214.3,377.2 191.0,379.7 186.0,374.0 C181.0,368.3 190.0,349.8 192.0,340.0 C194.0,330.2 196.7,323.3 198.0,315.0 C199.3,306.7 193.0,295.2 200.0,290.0Z"/></g>
<g id="cloud0"><path d="M134.0,78.0 L140.0,74.0 L152.0,76.0 L160.0,74.0 L166.0,76.0 L172.0,80.0 L172.0,88.0 L162.0,90.0 L156.0,92.0 L146.0,92.0 L138.0,90.0 L134.0,86.0Z"/><path d="M140.0,95.0 L151.0,95.0 L151.0,99.0 L140.0,99.0Z"/><path d="M236.0,250.0 L244.0,247.0 L262.0,247.0 L268.0,250.0 L275.0,252.0 L275.0,265.0 L262.0,265.0 L250.0,262.0 L236.0,262.0Z"/><path d="M295.0,239.0 L307.0,239.0 L307.0,243.0 L295.0,243.0Z"/><path d="M300.0,246.0 L324.0,246.0 L324.0,251.0 L300.0,251.0Z"/><path d="M335.0,294.5 L374.0,294.5 L374.0,301.5 L335.0,301.5Z"/><path d="M42.0,299.0 L53.0,299.0 L53.0,306.0 L42.0,306.0Z"/><path d="M24.0,306.0 L53.0,306.0 L53.0,311.5 L24.0,311.5Z"/><path d="M117.0,374.0 L120.0,362.0 L126.0,356.0 L134.0,354.0 L159.0,354.0 L173.0,360.0 L173.0,374.0Z"/><path d="M17.0,363.0 L28.0,363.0 L28.0,367.0 L17.0,367.0Z"/><path d="M25.0,370.0 L67.0,370.0 L67.0,374.0 L25.0,374.0Z"/></g>
<g id="cloud1"><path d="M172.0,80.0 L192.0,80.0 L193.0,84.0 L205.0,86.0 L211.0,92.0 L211.0,99.0 L196.0,99.0 L193.0,107.0 L180.0,107.0 L179.0,100.0 L172.0,98.0Z"/><path d="M140.0,95.0 L145.0,95.0 L145.0,100.0 L140.0,100.0Z"/><path d="M61.5,199.6 L72.6,194.0 L92.2,191.2 L111.7,187.5 L131.3,189.8 L139.7,194.0 L156.4,196.8 L170.4,201.0 L174.6,209.3 L171.8,215.0 L169.0,223.3 L170.4,231.7 L164.8,235.9 L156.4,240.0 L150.8,244.3 L136.9,242.9 L122.9,238.7 L120.1,233.0 L111.7,228.9 L103.4,221.9 L92.2,214.9 L78.2,209.3 L67.0,205.2 L61.5,202.4Z"/><path d="M86.6,298.7 L95.0,296.0 L111.7,293.0 L123.0,290.0 L128.5,291.7 L134.0,297.3 L131.3,304.3 L123.0,307.0 L111.7,310.0 L106.0,311.3 L95.0,307.0 L88.0,303.0Z"/><path d="M53.0,315.5 L67.0,312.7 L83.8,310.0 L92.2,311.3 L95.0,317.0 L83.8,321.0 L72.6,325.3 L67.0,326.7 L61.5,321.0 L54.5,318.3Z"/><path d="M307.0,244.0 L315.0,243.0 L321.0,247.0 L335.0,250.0 L344.0,252.0 L341.0,257.0 L327.0,257.0 L316.0,254.0 L309.0,250.0Z"/><path d="M363.0,219.0 L374.0,219.0 L374.0,233.0 L363.0,233.0Z"/><path d="M0.0,278.0 L8.0,278.0 L8.0,287.0 L0.0,287.0Z"/><path d="M215.0,325.0 L240.0,325.0 L240.0,334.0 L215.0,334.0Z"/><path d="M237.0,310.0 L254.0,310.0 L254.0,315.5 L237.0,315.5Z"/><path d="M223.5,340.0 L243.0,339.0 L260.0,340.0 L271.0,345.0 L262.0,350.0 L245.0,349.0 L229.0,347.0Z"/><path d="M243.0,352.0 L260.0,352.0 L260.0,362.0 L243.0,362.0Z"/><path d="M335.0,350.0 L352.0,347.0 L363.0,346.0 L374.0,345.0 L374.0,374.0 L352.0,374.0 L343.0,366.0 L336.0,357.0Z"/><path d="M353.0,329.5 L374.0,329.5 L374.0,335.0 L353.0,335.0Z"/></g>
<g id="cloud2"><path d="M279.5,132.0 L300.0,128.0 L330.0,124.0 L352.0,123.0 L360.0,127.0 L357.5,134.0 L341.0,140.0 L321.0,144.0 L307.0,147.0 L293.0,144.0 L279.0,138.0Z"/><path d="M346.0,5.6 L374.0,5.6 L374.0,17.0 L346.0,17.0Z"/><path d="M360.0,25.0 L374.0,25.0 L374.0,36.0 L360.0,36.0Z"/><path d="M357.5,92.0 L374.0,92.0 L374.0,106.0 L357.5,106.0Z"/><path d="M300.0,51.0 L316.0,49.0 L335.0,47.5 L346.0,50.0 L343.0,56.0 L329.0,58.5 L310.0,60.0 L302.0,57.0Z"/><path d="M179.0,49.0 L195.0,49.0 L195.0,53.0 L179.0,53.0Z"/><path d="M204.0,46.0 L223.5,46.0 L223.5,57.0 L204.0,57.0Z"/><path d="M114.5,78.0 L140.0,78.0 L140.0,85.0 L114.5,85.0Z"/><path d="M307.0,5.6 L335.0,5.6 L335.0,11.0 L307.0,11.0Z"/><path d="M279.0,240.0 L307.0,240.0 L307.0,248.5 L279.0,248.5Z"/><path d="M330.0,296.0 L341.0,291.0 L360.0,290.0 L369.0,294.5 L366.0,301.5 L352.0,307.0 L335.0,304.3Z"/><path d="M346.0,310.0 L374.0,310.0 L374.0,321.0 L346.0,321.0Z"/><path d="M223.5,332.0 L237.4,326.7 L265.4,325.3 L290.5,326.7 L296.0,335.0 L315.6,339.0 L335.0,342.0 L352.0,346.0 L349.0,357.0 L343.6,366.0 L335.0,374.0 L240.0,374.0 L237.4,363.0 L231.8,354.6 L226.0,343.4Z"/></g>
<g id="cloud3"><path d="M81.0,0.0 L374.0,0.0 L374.0,187.0 L168.0,187.0 L162.0,173.0 L145.0,156.0 L131.0,140.0 L123.0,112.0 L123.0,84.0 L106.0,56.0 L95.0,33.5 L84.0,17.0Z"/><path d="M204.0,185.0 L279.0,185.0 L290.5,192.6 L307.0,209.3 L324.0,220.5 L324.0,237.3 L293.0,243.0 L288.0,259.6 L276.5,268.0 L265.4,259.6 L243.0,254.0 L229.0,251.0 L234.6,243.0 L220.7,229.0 L206.7,223.3Z"/><path d="M321.0,185.0 L349.0,185.0 L349.0,198.0 L321.0,198.0Z"/><path d="M355.0,209.0 L374.0,209.0 L374.0,245.7 L355.0,245.7Z"/><path d="M327.0,234.5 L352.0,234.5 L352.0,248.5 L327.0,248.5Z"/><path d="M0.0,0.0 L36.0,0.0 L36.0,17.0 L0.0,17.0Z"/><path d="M11.0,28.0 L36.0,28.0 L36.0,61.0 L11.0,61.0Z"/><path d="M0.0,75.0 L47.5,75.0 L47.5,87.0 L0.0,87.0Z"/><path d="M0.0,95.0 L11.0,95.0 L11.0,106.0 L0.0,106.0Z"/><path d="M0.0,201.0 L47.5,201.0 L47.5,218.0 L0.0,218.0Z"/><path d="M0.0,254.0 L16.8,251.0 L39.0,250.0 L47.5,254.0 L50.0,265.0 L72.6,268.0 L72.6,276.4 L50.0,276.4 L42.0,270.8 L16.8,270.8 L0.0,270.8Z"/><path d="M357.5,279.0 L374.0,279.0 L374.0,287.6 L357.5,287.6Z"/><path d="M260.0,282.0 L279.0,282.0 L279.0,298.7 L260.0,298.7Z"/><path d="M232.0,302.0 L243.0,302.0 L243.0,306.0 L232.0,306.0Z"/></g>
<g id="rings3"><path d="M42.0,86.6 L56.0,84.0 L64.0,78.0 L75.4,79.6 L81.0,84.0 L83.8,92.0 L78.0,97.8 L67.0,100.6 L56.0,97.8 L44.7,92.0 L42.0,86.6"/><path d="M30.7,111.7 L44.7,107.5 L61.5,106.0 L72.6,110.3 L69.8,117.3 L55.9,121.5 L41.9,120.0 L32.0,117.3"/><path d="M55.9,145.0 L64.0,137.0 L83.8,134.0 L103.4,132.7 L117.3,139.7 L114.5,148.0 L97.8,152.0 L75.4,155.0 L58.7,153.6 L55.9,145.0"/><path d="M42.0,176.0 L60.0,173.0 L78.0,178.0"/><path d="M44.0,191.0 L58.0,189.0 L72.0,192.0"/><path d="M88.0,188.0 L103.0,191.0 L108.0,200.0 L104.0,210.0 L95.0,216.0 L78.0,217.0"/><path d="M57.0,208.0 L66.0,213.0"/><path d="M42.0,225.0 L52.0,228.0 L61.0,231.0 L70.0,236.0 L86.0,241.0"/><path d="M70.0,244.0 L86.0,243.0 L100.0,246.0"/><path d="M85.0,256.0 L100.0,258.0 L112.0,262.0 L110.0,270.0 L95.0,270.0 L85.0,268.0"/><path d="M62.0,261.0 L78.0,262.0"/><path d="M56.0,80.0 L70.0,88.0 L62.0,94.0"/></g>
<path id="r3top" d="M78.0,-2.0 C85.3,-5.7 121.7,-6.5 132.0,-2.0 C142.3,2.5 136.7,15.5 140.0,25.0 C143.3,34.5 148.7,46.7 152.0,55.0 C155.3,63.3 159.3,69.5 160.0,75.0 C160.7,80.5 158.3,87.2 156.0,88.0 C153.7,88.8 149.3,84.3 146.0,80.0 C142.7,75.7 140.3,67.3 136.0,62.0 C131.7,56.7 126.0,52.5 120.0,48.0 C114.0,43.5 105.3,39.7 100.0,35.0 C94.7,30.3 91.7,26.2 88.0,20.0 C84.3,13.8 70.7,1.7 78.0,-2.0Z"/>
<path id="topbraid" d="M84.0,-2.0 C89.3,-6.0 112.0,-3.7 120.0,-2.0 C128.0,-0.3 129.3,3.5 132.0,8.0 C134.7,12.5 135.7,18.8 136.0,25.0 C136.3,31.2 135.7,40.2 134.0,45.0 C132.3,49.8 129.7,53.2 126.0,54.0 C122.3,54.8 116.7,52.7 112.0,50.0 C107.3,47.3 102.0,42.7 98.0,38.0 C94.0,33.3 90.3,28.7 88.0,22.0 C85.7,15.3 78.7,2.0 84.0,-2.0Z"/>
<g id="r4yel"><path d="M201.0,4.0 L221.0,4.0 L221.0,11.0 L201.0,11.0Z"/><path d="M235.0,4.0 L252.0,4.0 L252.0,8.0 L235.0,8.0Z"/><path d="M179.0,66.0 L190.0,60.0 L205.0,55.0 L223.0,53.0 L223.0,60.0 L208.0,66.0 L195.0,72.0 L180.0,73.0Z"/><path d="M248.6,60.0 L270.0,55.0 L295.0,54.5 L307.0,58.0 L300.0,66.0 L275.0,70.0 L250.0,70.0Z"/><path d="M209.5,100.0 L225.0,93.0 L245.0,92.0 L265.0,98.0 L260.0,110.0 L235.0,114.0 L212.0,112.0Z"/><path d="M198.0,134.0 L220.0,128.0 L250.0,126.0 L276.0,130.0 L288.0,140.0 L280.0,152.0 L260.0,157.0 L240.0,162.0 L215.0,156.0 L202.0,146.0Z"/><path d="M250.0,165.0 L272.0,160.0 L296.0,165.0 L303.0,177.0 L296.0,186.0 L255.0,186.0Z"/><path d="M307.0,115.0 L330.0,106.0 L352.0,110.0 L350.0,125.0 L330.0,137.0 L310.0,130.0Z"/><path d="M352.0,137.0 L374.0,137.0 L374.0,167.6 L352.0,167.6Z"/><path d="M352.0,14.0 L374.0,14.0 L374.0,22.0 L352.0,22.0Z"/><path d="M279.0,26.0 L293.0,26.0 L293.0,33.0 L279.0,33.0Z"/><path d="M349.0,187.0 L374.0,187.0 L374.0,209.0 L355.0,209.0 L349.0,198.0Z"/></g>
<clipPath id="r4yc"><path d="M201.0,4.0 L221.0,4.0 L221.0,11.0 L201.0,11.0Z"/><path d="M235.0,4.0 L252.0,4.0 L252.0,8.0 L235.0,8.0Z"/><path d="M179.0,66.0 L190.0,60.0 L205.0,55.0 L223.0,53.0 L223.0,60.0 L208.0,66.0 L195.0,72.0 L180.0,73.0Z"/><path d="M248.6,60.0 L270.0,55.0 L295.0,54.5 L307.0,58.0 L300.0,66.0 L275.0,70.0 L250.0,70.0Z"/><path d="M209.5,100.0 L225.0,93.0 L245.0,92.0 L265.0,98.0 L260.0,110.0 L235.0,114.0 L212.0,112.0Z"/><path d="M198.0,134.0 L220.0,128.0 L250.0,126.0 L276.0,130.0 L288.0,140.0 L280.0,152.0 L260.0,157.0 L240.0,162.0 L215.0,156.0 L202.0,146.0Z"/><path d="M250.0,165.0 L272.0,160.0 L296.0,165.0 L303.0,177.0 L296.0,186.0 L255.0,186.0Z"/><path d="M307.0,115.0 L330.0,106.0 L352.0,110.0 L350.0,125.0 L330.0,137.0 L310.0,130.0Z"/><path d="M352.0,137.0 L374.0,137.0 L374.0,167.6 L352.0,167.6Z"/><path d="M352.0,14.0 L374.0,14.0 L374.0,22.0 L352.0,22.0Z"/><path d="M279.0,26.0 L293.0,26.0 L293.0,33.0 L279.0,33.0Z"/><path d="M349.0,187.0 L374.0,187.0 L374.0,209.0 L355.0,209.0 L349.0,198.0Z"/></clipPath>
<g id="r4blue"><path d="M81.0,17.0 L112.0,17.0 L112.0,0.0 L134.0,0.0 L134.0,31.0 L81.0,31.0Z"/><path d="M103.0,46.0 L131.0,46.0 L131.0,56.0 L103.0,56.0Z"/><path d="M134.0,78.0 L156.0,78.0 L156.0,84.0 L134.0,84.0Z"/><path d="M123.0,110.0 L135.0,100.5 L150.0,102.0 L156.0,120.0 L152.0,137.0 L135.0,135.0 L125.0,125.0Z"/><path d="M170.0,142.5 L201.0,142.5 L201.0,159.0 L170.0,159.0Z"/><path d="M167.6,187.0 L206.7,187.0 L206.7,223.3 L195.5,220.5 L181.6,215.0 L162.0,206.6 L153.6,199.6 L159.0,192.6Z"/><path d="M195.5,265.0 L218.0,262.4 L245.8,259.6 L276.5,268.0 L276.5,276.4 L265.4,284.8 L257.0,304.3 L251.4,321.0 L243.0,332.0 L229.0,343.4 L212.3,365.8 L209.5,374.0 L145.3,374.0 L167.6,354.6 L173.2,340.6 L181.6,321.0 L187.2,304.3 L195.5,293.0 L204.0,279.0 L198.3,270.8Z"/></g>
<filter id="texY" x="0" y="0" width="100%" height="100%" color-interpolation-filters="sRGB"><feTurbulence type="fractalNoise" baseFrequency="0.05 0.16" numOctaves="3" seed="4"/><feColorMatrix type="matrix" values="0 0 0 0 0.86  0 0 0 0 0.88  0 0 0 0 0.0  2.4 0 0 0 -1.25"/></filter>
<filter id="texG" x="0" y="0" width="100%" height="100%" color-interpolation-filters="sRGB"><feTurbulence type="fractalNoise" baseFrequency="0.06 0.18" numOctaves="3" seed="11"/><feColorMatrix type="matrix" values="0 0 0 0 0.6  0 0 0 0 0.62  0 0 0 0 0.3  0 2.4 0 0 -1.05"/></filter>
<filter id="texY3" x="0" y="0" width="100%" height="100%" color-interpolation-filters="sRGB"><feTurbulence type="fractalNoise" baseFrequency="0.035 0.09" numOctaves="3" seed="9"/><feColorMatrix type="matrix" values="0 0 0 0 0.93  0 0 0 0 0.93  0 0 0 0 0.0  5 0 0 0 -2.65"/></filter>
<filter id="texG3" x="0" y="0" width="100%" height="100%" color-interpolation-filters="sRGB"><feTurbulence type="fractalNoise" baseFrequency="0.04 0.1" numOctaves="3" seed="13"/><feColorMatrix type="matrix" values="0 0 0 0 0.6  0 0 0 0 0.6  0 0 0 0 0.36  0 5 0 0 -2.25"/></filter>
<filter id="texO" x="0" y="0" width="100%" height="100%" color-interpolation-filters="sRGB"><feTurbulence type="fractalNoise" baseFrequency="0.05 0.12" numOctaves="2" seed="7"/><feColorMatrix type="matrix" values="0 0 0 0 0.97  0 0 0 0 0.72  0 0 0 0 0.0  0 0 2.6 0 -1.45"/></filter>
<filter id="texB" x="0" y="0" width="100%" height="100%" color-interpolation-filters="sRGB"><feTurbulence type="fractalNoise" baseFrequency="0.07 0.2" numOctaves="2" seed="21"/><feColorMatrix type="matrix" values="0 0 0 0 0.45  0 0 0 0 0.45  0 0 0 0 0.55  3 0 0 0 -1.75"/></filter>
<filter id="pix0" x="0.50" y="0.50" width="373.30" height="373.60" filterUnits="userSpaceOnUse" primitiveUnits="userSpaceOnUse"><feFlood x="2" y="2" width="1" height="1" flood-color="#000"/><feComposite width="5" height="5"/><feTile result="a"/><feComposite in="SourceGraphic" in2="a" operator="in"/><feMorphology operator="dilate" radius="2"/></filter>
<filter id="pix1" x="0.50" y="0.40" width="373.30" height="373.60" filterUnits="userSpaceOnUse" primitiveUnits="userSpaceOnUse"><feFlood x="2" y="2" width="1" height="1" flood-color="#000"/><feComposite width="5" height="5"/><feTile result="a"/><feComposite in="SourceGraphic" in2="a" operator="in"/><feMorphology operator="dilate" radius="2"/></filter>
<filter id="pix2" x="0.50" y="0.70" width="373.30" height="374.60" filterUnits="userSpaceOnUse" primitiveUnits="userSpaceOnUse"><feFlood x="2" y="2" width="1" height="1" flood-color="#000"/><feComposite width="5" height="5"/><feTile result="a"/><feComposite in="SourceGraphic" in2="a" operator="in"/><feMorphology operator="dilate" radius="2"/></filter>
<filter id="pix3" x="0.50" y="0.00" width="373.30" height="374.00" filterUnits="userSpaceOnUse" primitiveUnits="userSpaceOnUse"><feFlood x="2" y="2" width="1" height="1" flood-color="#000"/><feComposite width="5" height="5"/><feTile result="a"/><feComposite in="SourceGraphic" in2="a" operator="in"/><feMorphology operator="dilate" radius="2"/></filter>
</defs>
<g transform="translate(130.0,64.5) scale(1.00080,1.00161)"><g clip-path="url(#pc)">
<rect width="373" height="373" fill="#b8ba38"/>
<use href="#gray" fill="#a0a26a" opacity="0.7" filter="url(#b6)"/>
<use href="#yellow2" fill="#ecec08" opacity="0.45" filter="url(#b6)"/>
<rect width="373" height="373" filter="url(#texY)" opacity="0.45"/>
<rect width="373" height="373" filter="url(#texG)" opacity="0.45"/>
<use href="#yellow" fill="#ecec08" opacity="0.85" filter="url(#b3)"/>
<rect width="373" height="373" filter="url(#texG)" opacity="0.16"/>
<use href="#flood" fill="none" stroke="#9a9a8c" stroke-width="14" opacity="0.6" stroke-linecap="round" stroke-linejoin="round" filter="url(#b3)"/>
<use href="#specks" fill="#6e6e78" opacity="0.55" filter="url(#b0_6)"/>
<use href="#lakes" fill="#1a1ab4" filter="url(#b0_6)"/>
<use href="#topbraid" fill="#0a0af0" opacity="0.3" filter="url(#b1)"/>
<use href="#braids" fill="none" stroke="#0a0af0" stroke-width="1.8" opacity="0.85" stroke-linecap="round"/>
<use href="#blobs" fill="#0a0af0" opacity="1"/>
<use href="#river" fill="none" stroke="#0a0af0" stroke-width="5.2" stroke-linecap="round" stroke-linejoin="round"/>
</g>
<g>
<path d="M321.3,30.6 L283.6,123.8 L320.9,87.3 L357.8,123.8 Z" fill="none" stroke="#fffbe0" stroke-width="5" stroke-linejoin="miter"/>
<path d="M321.3,30.6 L283.6,123.8 L320.9,87.3 Z" fill="#d4d4d4"/>
<path d="M321.3,30.6 L357.8,123.8 L320.9,87.3 Z" fill="#fdfdfd"/>
<path d="M321.3,30.6 L320.9,87.3" stroke="#999" stroke-width="0.8"/>
<path d="M321.3,30.6 L283.6,123.8 L320.9,87.3 L357.8,123.8 Z" fill="none" stroke="#111" stroke-width="2.2" stroke-linejoin="miter"/>
<path d="M312.8,28.3 V4.5 H315.7 L327.0,22.6 V4.5 H329.8 V28.3 H326.9 L315.6,10.2 V28.3 Z" fill="#000"/>
</g>
</g>
<g transform="translate(511.5,64.5) scale(1.00080,1.00161)"><g clip-path="url(#pc)">
<rect width="373" height="373" fill="#b8ba38"/>
<use href="#gray" fill="#a0a26a" opacity="0.7" filter="url(#b6)"/>
<use href="#yellow2" fill="#ecec08" opacity="0.45" filter="url(#b6)"/>
<rect width="373" height="373" filter="url(#texY)" opacity="0.45"/>
<rect width="373" height="373" filter="url(#texG)" opacity="0.45"/>
<use href="#yellow" fill="#ecec08" opacity="0.85" filter="url(#b3)"/>
<rect width="373" height="373" filter="url(#texG)" opacity="0.16"/>
<ellipse cx="36" cy="63" rx="19" ry="10" fill="#f0c828" opacity="0.8" filter="url(#b2)"/>
<ellipse cx="40" cy="60" rx="11" ry="5" fill="#f08a1e" opacity="0.9" filter="url(#b1_5)"/>
<use href="#flood" fill="none" stroke="#9a9a8c" stroke-width="14" opacity="0.6" stroke-linecap="round" stroke-linejoin="round" filter="url(#b3)"/>
<use href="#specks" fill="#6e6e78" opacity="0.55" filter="url(#b0_6)"/>
<use href="#lakes" fill="#1a1ab4" filter="url(#b0_6)"/>
<use href="#topbraid" fill="#0a0af0" opacity="0.3" filter="url(#b1)"/>
<use href="#braids" fill="none" stroke="#0a0af0" stroke-width="1.8" opacity="0.85" stroke-linecap="round"/>
<use href="#blobs" fill="#0a0af0" opacity="1"/>
<use href="#river" fill="none" stroke="#0a0af0" stroke-width="5.2" stroke-linecap="round" stroke-linejoin="round"/>
</g>
<g>
<path d="M321.3,30.6 L283.6,123.8 L320.9,87.3 L357.8,123.8 Z" fill="none" stroke="#fffbe0" stroke-width="5" stroke-linejoin="miter"/>
<path d="M321.3,30.6 L283.6,123.8 L320.9,87.3 Z" fill="#d4d4d4"/>
<path d="M321.3,30.6 L357.8,123.8 L320.9,87.3 Z" fill="#fdfdfd"/>
<path d="M321.3,30.6 L320.9,87.3" stroke="#999" stroke-width="0.8"/>
<path d="M321.3,30.6 L283.6,123.8 L320.9,87.3 L357.8,123.8 Z" fill="none" stroke="#111" stroke-width="2.2" stroke-linejoin="miter"/>
<path d="M312.8,28.3 V4.5 H315.7 L327.0,22.6 V4.5 H329.8 V28.3 H326.9 L315.6,10.2 V28.3 Z" fill="#000"/>
</g>
</g>
<g transform="translate(891,64)">
<g transform="translate(0.50,0.50) scale(1.00080,1.00161)"><g clip-path="url(#pc)"><rect width="373" height="373" fill="#bcbc30"/>
<use href="#gray" fill="#a0a26a" opacity="0.7" filter="url(#b6)"/>
<use href="#yellow2" fill="#f0f000" opacity="0.4" filter="url(#b6)"/>
<rect width="373" height="373" filter="url(#texY3)" opacity="0.85"/>
<rect width="373" height="373" filter="url(#texG3)" opacity="0.85"/>
<use href="#yellow" fill="#f0f000" opacity="0.85" filter="url(#b3)"/>
<rect width="373" height="373" filter="url(#texG3)" opacity="0.30"/>
<ellipse cx="40" cy="65" rx="19" ry="10" fill="#f08020" opacity="0.9" filter="url(#b2)"/>
<path d="M120,300 L200,265 L190,310 L150,330 Z" fill="#f8c000" opacity="0.5" filter="url(#b4)"/>
<use href="#flood2" fill="#8c8c84" opacity="0.4" filter="url(#b2)"/>
<use href="#flood" fill="none" stroke="#8c8c84" stroke-width="22" opacity="0.5" stroke-linecap="round" stroke-linejoin="round" filter="url(#b3)"/>
<use href="#specks" fill="#6e6e78" opacity="0.55" filter="url(#b0_6)"/>
<use href="#lakes" fill="#1a1ab4" filter="url(#b0_6)"/>
<use href="#topbraid" fill="#1a26b0" opacity="0.25" filter="url(#b1)"/>
<use href="#braids" fill="none" stroke="#1a26b0" stroke-width="1.6" opacity="0.5" stroke-linecap="round"/>
<use href="#blobs" fill="#1a26b0" opacity="0.45"/>
<use href="#river" fill="none" stroke="#1a26b0" stroke-width="3.6" stroke-linecap="round" stroke-linejoin="round"/>
<use href="#cloud0" fill="#ffffff"/></g></g>
<g filter="url(#pix0)"><g transform="translate(0.50,0.50) scale(1.00080,1.00161)"><g clip-path="url(#pc)"><rect width="373" height="373" fill="#bcbc30"/>
<use href="#gray" fill="#a0a26a" opacity="0.7" filter="url(#b6)"/>
<use href="#yellow2" fill="#f0f000" opacity="0.4" filter="url(#b6)"/>
<rect width="373" height="373" filter="url(#texY3)" opacity="0.85"/>
<rect width="373" height="373" filter="url(#texG3)" opacity="0.85"/>
<use href="#yellow" fill="#f0f000" opacity="0.85" filter="url(#b3)"/>
<rect width="373" height="373" filter="url(#texG3)" opacity="0.30"/>
<ellipse cx="40" cy="65" rx="19" ry="10" fill="#f08020" opacity="0.9" filter="url(#b2)"/>
<path d="M120,300 L200,265 L190,310 L150,330 Z" fill="#f8c000" opacity="0.5" filter="url(#b4)"/>
<use href="#flood2" fill="#8c8c84" opacity="0.4" filter="url(#b2)"/>
<use href="#flood" fill="none" stroke="#8c8c84" stroke-width="22" opacity="0.5" stroke-linecap="round" stroke-linejoin="round" filter="url(#b3)"/>
<use href="#specks" fill="#6e6e78" opacity="0.55" filter="url(#b0_6)"/>
<use href="#lakes" fill="#1a1ab4" filter="url(#b0_6)"/>
<use href="#topbraid" fill="#1a26b0" opacity="0.25" filter="url(#b1)"/>
<use href="#braids" fill="none" stroke="#1a26b0" stroke-width="1.6" opacity="0.5" stroke-linecap="round"/>
<use href="#blobs" fill="#1a26b0" opacity="0.45"/>
<use href="#river" fill="none" stroke="#1a26b0" stroke-width="3.6" stroke-linecap="round" stroke-linejoin="round"/>
<use href="#cloud0" fill="#ffffff"/></g></g></g>
<g transform="translate(0.50,0.50) scale(1.00080,1.00161)">
<g>
<path d="M321.3,30.6 L283.6,123.8 L320.9,87.3 L357.8,123.8 Z" fill="none" stroke="#fffbe0" stroke-width="5" stroke-linejoin="miter"/>
<path d="M321.3,30.6 L283.6,123.8 L320.9,87.3 Z" fill="#d4d4d4"/>
<path d="M321.3,30.6 L357.8,123.8 L320.9,87.3 Z" fill="#fdfdfd"/>
<path d="M321.3,30.6 L320.9,87.3" stroke="#999" stroke-width="0.8"/>
<path d="M321.3,30.6 L283.6,123.8 L320.9,87.3 L357.8,123.8 Z" fill="none" stroke="#111" stroke-width="2.2" stroke-linejoin="miter"/>
<path d="M312.8,28.3 V4.5 H315.7 L327.0,22.6 V4.5 H329.8 V28.3 H326.9 L315.6,10.2 V28.3 Z" fill="#000"/>
</g>
</g></g>
<g transform="translate(130.0,478.4) scale(1.00080,1.00161)"><g clip-path="url(#pc)">
<rect width="373" height="373" fill="#b8ba38"/>
<use href="#gray" fill="#a0a26a" opacity="0.7" filter="url(#b6)"/>
<use href="#yellow2" fill="#ecec08" opacity="0.45" filter="url(#b6)"/>
<rect width="373" height="373" filter="url(#texY)" opacity="0.45"/>
<rect width="373" height="373" filter="url(#texG)" opacity="0.45"/>
<use href="#yellow" fill="#ecec08" opacity="0.85" filter="url(#b3)"/>
<rect width="373" height="373" filter="url(#texG)" opacity="0.16"/>
<use href="#flood2" fill="#8e8e98" opacity="0.6" filter="url(#b2)"/>
<use href="#flood" fill="none" stroke="#8e8e98" stroke-width="14" opacity="0.6" stroke-linecap="round" stroke-linejoin="round" filter="url(#b3)"/>
<use href="#specks" fill="#6e6e78" opacity="0.55" filter="url(#b0_6)"/>
<use href="#lakes" fill="#1a1ab4" filter="url(#b0_6)"/>
<use href="#topbraid" fill="#0a0af0" opacity="0.45" filter="url(#b1)"/>
<use href="#braids" fill="none" stroke="#0a0af0" stroke-width="2.4" opacity="0.85" stroke-linecap="round"/>
<use href="#blobs" fill="#0a0af0" opacity="1"/>
<use href="#river" fill="none" stroke="#0a0af0" stroke-width="6.5" stroke-linecap="round" stroke-linejoin="round"/>
</g>
<g>
<path d="M321.3,30.6 L283.6,123.8 L320.9,87.3 L357.8,123.8 Z" fill="none" stroke="#fffbe0" stroke-width="5" stroke-linejoin="miter"/>
<path d="M321.3,30.6 L283.6,123.8 L320.9,87.3 Z" fill="#d4d4d4"/>
<path d="M321.3,30.6 L357.8,123.8 L320.9,87.3 Z" fill="#fdfdfd"/>
<path d="M321.3,30.6 L320.9,87.3" stroke="#999" stroke-width="0.8"/>
<path d="M321.3,30.6 L283.6,123.8 L320.9,87.3 L357.8,123.8 Z" fill="none" stroke="#111" stroke-width="2.2" stroke-linejoin="miter"/>
<path d="M312.8,28.3 V4.5 H315.7 L327.0,22.6 V4.5 H329.8 V28.3 H326.9 L315.6,10.2 V28.3 Z" fill="#000"/>
</g>
</g>
<g transform="translate(511.5,478.4) scale(1.00080,1.00161)"><g clip-path="url(#pc)">
<rect width="373" height="373" fill="#b8ba38"/>
<use href="#gray" fill="#a0a26a" opacity="0.7" filter="url(#b6)"/>
<use href="#yellow2" fill="#ecec08" opacity="0.45" filter="url(#b6)"/>
<rect width="373" height="373" filter="url(#texY)" opacity="0.45"/>
<rect width="373" height="373" filter="url(#texG)" opacity="0.45"/>
<use href="#yellow" fill="#ecec08" opacity="0.85" filter="url(#b3)"/>
<rect width="373" height="373" filter="url(#texG)" opacity="0.16"/>
<use href="#flood2" fill="#8e8e98" opacity="0.6" filter="url(#b2)"/>
<use href="#flood" fill="none" stroke="#8e8e98" stroke-width="14" opacity="0.6" stroke-linecap="round" stroke-linejoin="round" filter="url(#b3)"/>
<use href="#specks" fill="#6e6e78" opacity="0.55" filter="url(#b0_6)"/>
<use href="#lakes" fill="#1a1ab4" filter="url(#b0_6)"/>
<use href="#topbraid" fill="#0a0af0" opacity="0.45" filter="url(#b1)"/>
<use href="#braids" fill="none" stroke="#0a0af0" stroke-width="2.4" opacity="0.85" stroke-linecap="round"/>
<use href="#blobs" fill="#0a0af0" opacity="1"/>
<use href="#river" fill="none" stroke="#0a0af0" stroke-width="6.5" stroke-linecap="round" stroke-linejoin="round"/>
</g>
<g>
<path d="M321.3,30.6 L283.6,123.8 L320.9,87.3 L357.8,123.8 Z" fill="none" stroke="#fffbe0" stroke-width="5" stroke-linejoin="miter"/>
<path d="M321.3,30.6 L283.6,123.8 L320.9,87.3 Z" fill="#d4d4d4"/>
<path d="M321.3,30.6 L357.8,123.8 L320.9,87.3 Z" fill="#fdfdfd"/>
<path d="M321.3,30.6 L320.9,87.3" stroke="#999" stroke-width="0.8"/>
<path d="M321.3,30.6 L283.6,123.8 L320.9,87.3 L357.8,123.8 Z" fill="none" stroke="#111" stroke-width="2.2" stroke-linejoin="miter"/>
<path d="M312.8,28.3 V4.5 H315.7 L327.0,22.6 V4.5 H329.8 V28.3 H326.9 L315.6,10.2 V28.3 Z" fill="#000"/>
</g>
</g>
<g transform="translate(891,478)">
<g transform="translate(0.50,0.40) scale(1.00080,1.00161)"><g clip-path="url(#pc)"><rect width="373" height="373" fill="#bcbc30"/>
<use href="#gray" fill="#a0a26a" opacity="0.7" filter="url(#b6)"/>
<use href="#yellow2" fill="#f0f000" opacity="0.4" filter="url(#b6)"/>
<rect width="373" height="373" filter="url(#texY3)" opacity="0.85"/>
<rect width="373" height="373" filter="url(#texG3)" opacity="0.85"/>
<use href="#yellow" fill="#f0f000" opacity="0.85" filter="url(#b3)"/>
<rect width="373" height="373" filter="url(#texG3)" opacity="0.30"/>
<use href="#flood2" fill="#8686a0" opacity="0.65" filter="url(#b2)"/>
<use href="#flood" fill="none" stroke="#8686a0" stroke-width="20" opacity="0.5" stroke-linecap="round" stroke-linejoin="round" filter="url(#b3)"/>
<use href="#specks" fill="#6e6e78" opacity="0.55" filter="url(#b0_6)"/>
<use href="#lakes" fill="#1a1ab4" filter="url(#b0_6)"/>
<use href="#topbraid" fill="#1020d8" opacity="0.45" filter="url(#b1)"/>
<use href="#braids" fill="none" stroke="#1020d8" stroke-width="2.4" opacity="0.7" stroke-linecap="round"/>
<use href="#blobs" fill="#1020d8" opacity="0.8"/>
<use href="#river" fill="none" stroke="#1020d8" stroke-width="5.2" stroke-linecap="round" stroke-linejoin="round"/>
<use href="#r3top" fill="#2a32c8" opacity="0.35" filter="url(#b1)"/>
<use href="#cloud1" fill="#ffffff"/></g></g>
<g filter="url(#pix1)"><g transform="translate(0.50,0.40) scale(1.00080,1.00161)"><g clip-path="url(#pc)"><rect width="373" height="373" fill="#bcbc30"/>
<use href="#gray" fill="#a0a26a" opacity="0.7" filter="url(#b6)"/>
<use href="#yellow2" fill="#f0f000" opacity="0.4" filter="url(#b6)"/>
<rect width="373" height="373" filter="url(#texY3)" opacity="0.85"/>
<rect width="373" height="373" filter="url(#texG3)" opacity="0.85"/>
<use href="#yellow" fill="#f0f000" opacity="0.85" filter="url(#b3)"/>
<rect width="373" height="373" filter="url(#texG3)" opacity="0.30"/>
<use href="#flood2" fill="#8686a0" opacity="0.65" filter="url(#b2)"/>
<use href="#flood" fill="none" stroke="#8686a0" stroke-width="20" opacity="0.5" stroke-linecap="round" stroke-linejoin="round" filter="url(#b3)"/>
<use href="#specks" fill="#6e6e78" opacity="0.55" filter="url(#b0_6)"/>
<use href="#lakes" fill="#1a1ab4" filter="url(#b0_6)"/>
<use href="#topbraid" fill="#1020d8" opacity="0.45" filter="url(#b1)"/>
<use href="#braids" fill="none" stroke="#1020d8" stroke-width="2.4" opacity="0.7" stroke-linecap="round"/>
<use href="#blobs" fill="#1020d8" opacity="0.8"/>
<use href="#river" fill="none" stroke="#1020d8" stroke-width="5.2" stroke-linecap="round" stroke-linejoin="round"/>
<use href="#r3top" fill="#2a32c8" opacity="0.35" filter="url(#b1)"/>
<use href="#cloud1" fill="#ffffff"/></g></g></g>
<g transform="translate(0.50,0.40) scale(1.00080,1.00161)">
<g>
<path d="M321.3,30.6 L283.6,123.8 L320.9,87.3 L357.8,123.8 Z" fill="none" stroke="#fffbe0" stroke-width="5" stroke-linejoin="miter"/>
<path d="M321.3,30.6 L283.6,123.8 L320.9,87.3 Z" fill="#d4d4d4"/>
<path d="M321.3,30.6 L357.8,123.8 L320.9,87.3 Z" fill="#fdfdfd"/>
<path d="M321.3,30.6 L320.9,87.3" stroke="#999" stroke-width="0.8"/>
<path d="M321.3,30.6 L283.6,123.8 L320.9,87.3 L357.8,123.8 Z" fill="none" stroke="#111" stroke-width="2.2" stroke-linejoin="miter"/>
<path d="M312.8,28.3 V4.5 H315.7 L327.0,22.6 V4.5 H329.8 V28.3 H326.9 L315.6,10.2 V28.3 Z" fill="#000"/>
</g>
</g></g>
<g transform="translate(130.0,894.7) scale(1.00080,1.00429)"><g clip-path="url(#pc)">
<rect width="373" height="373" fill="#b8ba38"/>
<use href="#gray" fill="#a0a26a" opacity="0.7" filter="url(#b6)"/>
<use href="#yellow2" fill="#ecec08" opacity="0.45" filter="url(#b6)"/>
<rect width="373" height="373" filter="url(#texY)" opacity="0.45"/>
<rect width="373" height="373" filter="url(#texG)" opacity="0.45"/>
<use href="#yellow" fill="#ecec08" opacity="0.85" filter="url(#b3)"/>
<rect width="373" height="373" filter="url(#texG)" opacity="0.16"/>
<use href="#flood2" fill="#8e8e98" opacity="0.7" filter="url(#b2)"/>
<use href="#flood" fill="none" stroke="#8e8e98" stroke-width="14" opacity="0.6" stroke-linecap="round" stroke-linejoin="round" filter="url(#b3)"/>
<use href="#specks" fill="#6e6e78" opacity="0.55" filter="url(#b0_6)"/>
<use href="#lakes" fill="#1a1ab4" filter="url(#b0_6)"/>
<use href="#topbraid" fill="#0a0af0" opacity="0.45" filter="url(#b1)"/>
<use href="#braids" fill="none" stroke="#0a0af0" stroke-width="2.4" opacity="0.85" stroke-linecap="round"/>
<use href="#blobs" fill="#0a0af0" opacity="1"/>
<use href="#river" fill="none" stroke="#0a0af0" stroke-width="7.5" stroke-linecap="round" stroke-linejoin="round"/>
</g>
<g>
<path d="M321.3,30.6 L283.6,123.8 L320.9,87.3 L357.8,123.8 Z" fill="none" stroke="#fffbe0" stroke-width="5" stroke-linejoin="miter"/>
<path d="M321.3,30.6 L283.6,123.8 L320.9,87.3 Z" fill="#d4d4d4"/>
<path d="M321.3,30.6 L357.8,123.8 L320.9,87.3 Z" fill="#fdfdfd"/>
<path d="M321.3,30.6 L320.9,87.3" stroke="#999" stroke-width="0.8"/>
<path d="M321.3,30.6 L283.6,123.8 L320.9,87.3 L357.8,123.8 Z" fill="none" stroke="#111" stroke-width="2.2" stroke-linejoin="miter"/>
<path d="M312.8,28.3 V4.5 H315.7 L327.0,22.6 V4.5 H329.8 V28.3 H326.9 L315.6,10.2 V28.3 Z" fill="#000"/>
</g>
</g>
<g transform="translate(511.5,894.7) scale(1.00080,1.00429)"><g clip-path="url(#pc)">
<rect width="373" height="373" fill="#b8ba38"/>
<use href="#gray" fill="#a0a26a" opacity="0.7" filter="url(#b6)"/>
<use href="#yellow2" fill="#ecec08" opacity="0.45" filter="url(#b6)"/>
<rect width="373" height="373" filter="url(#texY)" opacity="0.45"/>
<rect width="373" height="373" filter="url(#texG)" opacity="0.45"/>
<use href="#yellow" fill="#ecec08" opacity="0.85" filter="url(#b3)"/>
<rect width="373" height="373" filter="url(#texG)" opacity="0.16"/>
<use href="#flood2" fill="#8e8e98" opacity="0.7" filter="url(#b2)"/>
<use href="#flood" fill="none" stroke="#8e8e98" stroke-width="14" opacity="0.6" stroke-linecap="round" stroke-linejoin="round" filter="url(#b3)"/>
<use href="#specks" fill="#6e6e78" opacity="0.55" filter="url(#b0_6)"/>
<use href="#lakes" fill="#1a1ab4" filter="url(#b0_6)"/>
<use href="#topbraid" fill="#0a0af0" opacity="0.45" filter="url(#b1)"/>
<use href="#braids" fill="none" stroke="#0a0af0" stroke-width="2.4" opacity="0.85" stroke-linecap="round"/>
<use href="#blobs" fill="#0a0af0" opacity="1"/>
<use href="#river" fill="none" stroke="#0a0af0" stroke-width="7.5" stroke-linecap="round" stroke-linejoin="round"/>
</g>
<g>
<path d="M321.3,30.6 L283.6,123.8 L320.9,87.3 L357.8,123.8 Z" fill="none" stroke="#fffbe0" stroke-width="5" stroke-linejoin="miter"/>
<path d="M321.3,30.6 L283.6,123.8 L320.9,87.3 Z" fill="#d4d4d4"/>
<path d="M321.3,30.6 L357.8,123.8 L320.9,87.3 Z" fill="#fdfdfd"/>
<path d="M321.3,30.6 L320.9,87.3" stroke="#999" stroke-width="0.8"/>
<path d="M321.3,30.6 L283.6,123.8 L320.9,87.3 L357.8,123.8 Z" fill="none" stroke="#111" stroke-width="2.2" stroke-linejoin="miter"/>
<path d="M312.8,28.3 V4.5 H315.7 L327.0,22.6 V4.5 H329.8 V28.3 H326.9 L315.6,10.2 V28.3 Z" fill="#000"/>
</g>
</g>
<g transform="translate(891,894)">
<g transform="translate(0.50,0.70) scale(1.00080,1.00429)"><g clip-path="url(#pc)"><rect width="373" height="373" fill="#bcbc30"/>
<use href="#gray" fill="#a0a26a" opacity="0.7" filter="url(#b6)"/>
<use href="#yellow2" fill="#f0f000" opacity="0.4" filter="url(#b6)"/>
<rect width="373" height="373" filter="url(#texY3)" opacity="0.85"/>
<rect width="373" height="373" filter="url(#texG3)" opacity="0.85"/>
<use href="#yellow" fill="#f0f000" opacity="0.85" filter="url(#b3)"/>
<rect width="373" height="373" filter="url(#texG3)" opacity="0.30"/>
<use href="#flood2" fill="#8686a0" opacity="0.75" filter="url(#b2)"/>
<use href="#flood" fill="none" stroke="#8686a0" stroke-width="30" opacity="0.6" stroke-linecap="round" stroke-linejoin="round" filter="url(#b3)"/>
<use href="#specks" fill="#6e6e78" opacity="0.55" filter="url(#b0_6)"/>
<use href="#lakes" fill="#1a1ab4" filter="url(#b0_6)"/>
<use href="#topbraid" fill="#0a10ee" opacity="0.45" filter="url(#b1)"/>
<use href="#braids" fill="none" stroke="#0a10ee" stroke-width="3.5" opacity="0.9" stroke-linecap="round"/>
<use href="#blobs" fill="#0a10ee" opacity="1"/>
<use href="#river" fill="none" stroke="#0a10ee" stroke-width="9" stroke-linecap="round" stroke-linejoin="round"/>
<use href="#r3top" fill="#1a22d8" opacity="0.7" filter="url(#b1)"/>
<use href="#river" fill="none" stroke="#0a10ee" stroke-width="9" stroke-linecap="round"/>
<use href="#cloud2" fill="#ffffff"/>
<use href="#rings3" fill="none" stroke="#ffffff" stroke-width="6.5" stroke-linejoin="round" stroke-linecap="square"/></g></g>
<g filter="url(#pix2)"><g transform="translate(0.50,0.70) scale(1.00080,1.00429)"><g clip-path="url(#pc)"><rect width="373" height="373" fill="#bcbc30"/>
<use href="#gray" fill="#a0a26a" opacity="0.7" filter="url(#b6)"/>
<use href="#yellow2" fill="#f0f000" opacity="0.4" filter="url(#b6)"/>
<rect width="373" height="373" filter="url(#texY3)" opacity="0.85"/>
<rect width="373" height="373" filter="url(#texG3)" opacity="0.85"/>
<use href="#yellow" fill="#f0f000" opacity="0.85" filter="url(#b3)"/>
<rect width="373" height="373" filter="url(#texG3)" opacity="0.30"/>
<use href="#flood2" fill="#8686a0" opacity="0.75" filter="url(#b2)"/>
<use href="#flood" fill="none" stroke="#8686a0" stroke-width="30" opacity="0.6" stroke-linecap="round" stroke-linejoin="round" filter="url(#b3)"/>
<use href="#specks" fill="#6e6e78" opacity="0.55" filter="url(#b0_6)"/>
<use href="#lakes" fill="#1a1ab4" filter="url(#b0_6)"/>
<use href="#topbraid" fill="#0a10ee" opacity="0.45" filter="url(#b1)"/>
<use href="#braids" fill="none" stroke="#0a10ee" stroke-width="3.5" opacity="0.9" stroke-linecap="round"/>
<use href="#blobs" fill="#0a10ee" opacity="1"/>
<use href="#river" fill="none" stroke="#0a10ee" stroke-width="9" stroke-linecap="round" stroke-linejoin="round"/>
<use href="#r3top" fill="#1a22d8" opacity="0.7" filter="url(#b1)"/>
<use href="#river" fill="none" stroke="#0a10ee" stroke-width="9" stroke-linecap="round"/>
<use href="#cloud2" fill="#ffffff"/>
<use href="#rings3" fill="none" stroke="#ffffff" stroke-width="6.5" stroke-linejoin="round" stroke-linecap="square"/></g></g></g>
<g transform="translate(0.50,0.70) scale(1.00080,1.00429)">
<g>
<path d="M321.3,30.6 L283.6,123.8 L320.9,87.3 L357.8,123.8 Z" fill="none" stroke="#fffbe0" stroke-width="5" stroke-linejoin="miter"/>
<path d="M321.3,30.6 L283.6,123.8 L320.9,87.3 Z" fill="#d4d4d4"/>
<path d="M321.3,30.6 L357.8,123.8 L320.9,87.3 Z" fill="#fdfdfd"/>
<path d="M321.3,30.6 L320.9,87.3" stroke="#999" stroke-width="0.8"/>
<path d="M321.3,30.6 L283.6,123.8 L320.9,87.3 L357.8,123.8 Z" fill="none" stroke="#111" stroke-width="2.2" stroke-linejoin="miter"/>
<path d="M312.8,28.3 V4.5 H315.7 L327.0,22.6 V4.5 H329.8 V28.3 H326.9 L315.6,10.2 V28.3 Z" fill="#000"/>
</g>
</g></g>
<g transform="translate(130.0,1310.0) scale(1.00080,1.00268)"><g clip-path="url(#pc)">
<rect width="373" height="373" fill="#fbf800"/>
<use href="#gray" fill="#d4d040" opacity="0.2" filter="url(#b6)"/>
<use href="#yellow2" fill="#fffe00" opacity="0.5" filter="url(#b6)"/>
<rect width="373" height="373" filter="url(#texY)" opacity="0.2"/>
<rect width="373" height="373" filter="url(#texG)" opacity="0.2"/>
<use href="#yellow" fill="#fffe00" opacity="0.6" filter="url(#b3)"/>
<rect width="373" height="373" filter="url(#texG)" opacity="0.07"/>
<path d="M0,0 L150,0 L200,60 L230,180 L215,300 L175,373 L0,373Z" fill="#fce400" opacity="0.22" filter="url(#b8)"/>
<rect width="373" height="373" filter="url(#texO)" opacity="0.4"/>
<use href="#flood2" fill="#a0a08c" opacity="0.3" filter="url(#b2)"/>
<use href="#flood" fill="none" stroke="#a0a08c" stroke-width="14" opacity="0.35" stroke-linecap="round" stroke-linejoin="round" filter="url(#b3)"/>
<use href="#specks" fill="#6e6e78" opacity="0.4" filter="url(#b0_6)"/>
<use href="#lakes" fill="#1a1ab4" filter="url(#b0_6)"/>
<use href="#topbraid" fill="#0a0af0" opacity="0.45" filter="url(#b1)"/>
<use href="#braids" fill="none" stroke="#0a0af0" stroke-width="2.6" opacity="0.85" stroke-linecap="round"/>
<use href="#blobs" fill="#0a0af0" opacity="1"/>
<use href="#river" fill="none" stroke="#0a0af0" stroke-width="7.5" stroke-linecap="round" stroke-linejoin="round"/>
</g>
<g>
<path d="M321.3,30.6 L283.6,123.8 L320.9,87.3 L357.8,123.8 Z" fill="none" stroke="#fffbe0" stroke-width="5" stroke-linejoin="miter"/>
<path d="M321.3,30.6 L283.6,123.8 L320.9,87.3 Z" fill="#d4d4d4"/>
<path d="M321.3,30.6 L357.8,123.8 L320.9,87.3 Z" fill="#fdfdfd"/>
<path d="M321.3,30.6 L320.9,87.3" stroke="#999" stroke-width="0.8"/>
<path d="M321.3,30.6 L283.6,123.8 L320.9,87.3 L357.8,123.8 Z" fill="none" stroke="#111" stroke-width="2.2" stroke-linejoin="miter"/>
<path d="M312.8,28.3 V4.5 H315.7 L327.0,22.6 V4.5 H329.8 V28.3 H326.9 L315.6,10.2 V28.3 Z" fill="#000"/>
</g>
</g>
<g transform="translate(511.5,1310.0) scale(1.00080,1.00268)"><g clip-path="url(#pc)">
<rect width="373" height="373" fill="#fbf800"/>
<use href="#gray" fill="#d4d040" opacity="0.2" filter="url(#b6)"/>
<use href="#yellow2" fill="#fffe00" opacity="0.5" filter="url(#b6)"/>
<rect width="373" height="373" filter="url(#texY)" opacity="0.2"/>
<rect width="373" height="373" filter="url(#texG)" opacity="0.2"/>
<use href="#yellow" fill="#fffe00" opacity="0.6" filter="url(#b3)"/>
<rect width="373" height="373" filter="url(#texG)" opacity="0.07"/>
<path d="M0,0 L150,0 L200,60 L230,180 L215,300 L175,373 L0,373Z" fill="#fce400" opacity="0.22" filter="url(#b8)"/>
<rect width="373" height="373" filter="url(#texO)" opacity="0.4"/>
<use href="#flood2" fill="#a0a08c" opacity="0.3" filter="url(#b2)"/>
<use href="#flood" fill="none" stroke="#a0a08c" stroke-width="14" opacity="0.35" stroke-linecap="round" stroke-linejoin="round" filter="url(#b3)"/>
<use href="#specks" fill="#6e6e78" opacity="0.4" filter="url(#b0_6)"/>
<use href="#lakes" fill="#1a1ab4" filter="url(#b0_6)"/>
<use href="#topbraid" fill="#0a0af0" opacity="0.45" filter="url(#b1)"/>
<use href="#braids" fill="none" stroke="#0a0af0" stroke-width="2.6" opacity="0.85" stroke-linecap="round"/>
<use href="#blobs" fill="#0a0af0" opacity="1"/>
<use href="#river" fill="none" stroke="#0a0af0" stroke-width="7.5" stroke-linecap="round" stroke-linejoin="round"/>
</g>
<g>
<path d="M321.3,30.6 L283.6,123.8 L320.9,87.3 L357.8,123.8 Z" fill="none" stroke="#fffbe0" stroke-width="5" stroke-linejoin="miter"/>
<path d="M321.3,30.6 L283.6,123.8 L320.9,87.3 Z" fill="#d4d4d4"/>
<path d="M321.3,30.6 L357.8,123.8 L320.9,87.3 Z" fill="#fdfdfd"/>
<path d="M321.3,30.6 L320.9,87.3" stroke="#999" stroke-width="0.8"/>
<path d="M321.3,30.6 L283.6,123.8 L320.9,87.3 L357.8,123.8 Z" fill="none" stroke="#111" stroke-width="2.2" stroke-linejoin="miter"/>
<path d="M312.8,28.3 V4.5 H315.7 L327.0,22.6 V4.5 H329.8 V28.3 H326.9 L315.6,10.2 V28.3 Z" fill="#000"/>
</g>
</g>
<g transform="translate(891,1310)">
<g transform="translate(0.50,0.00) scale(1.00080,1.00268)"><g clip-path="url(#pc)"><rect width="373" height="373" fill="#fbf800"/>
<use href="#gray" fill="#d4d040" opacity="0.2" filter="url(#b6)"/>
<use href="#yellow2" fill="#fffe00" opacity="0.5" filter="url(#b6)"/>
<rect width="373" height="373" filter="url(#texY)" opacity="0.2"/>
<rect width="373" height="373" filter="url(#texG)" opacity="0.2"/>
<use href="#yellow" fill="#fffe00" opacity="0.6" filter="url(#b3)"/>
<rect width="373" height="373" filter="url(#texG)" opacity="0.07"/>
<path d="M0,0 L150,0 L200,60 L230,180 L215,300 L175,373 L0,373Z" fill="#fce400" opacity="0.22" filter="url(#b8)"/>
<rect width="373" height="373" filter="url(#texO)" opacity="0.4"/>
<rect width="373" height="373" fill="#fcf000" opacity="0.6"/>
<ellipse cx="40" cy="236" rx="30" ry="9" fill="#f8c000" opacity="0.56" filter="url(#b3)"/>
<ellipse cx="36" cy="282" rx="20" ry="7" fill="#f8c000" opacity="0.56" filter="url(#b3)"/>
<ellipse cx="145" cy="304" rx="28" ry="25" fill="#f8c000" opacity="0.28" filter="url(#b3)"/>
<ellipse cx="12" cy="67" rx="14" ry="6" fill="#f8c000" opacity="0.56" filter="url(#b3)"/>
<ellipse cx="97" cy="85" rx="20" ry="7" fill="#f8c000" opacity="0.36" filter="url(#b3)"/>
<ellipse cx="43" cy="160" rx="26" ry="8" fill="#f8c000" opacity="0.40" filter="url(#b3)"/>
<ellipse cx="110" cy="250" rx="20" ry="10" fill="#f8c000" opacity="0.28" filter="url(#b3)"/>
<ellipse cx="60" cy="120" rx="20" ry="8" fill="#f8c000" opacity="0.24" filter="url(#b3)"/>
<path d="M276,268 L290,258 L300,245 L324,238 L374,240 L374,374 L212,374 L230,345 L250,320 L260,295 L270,280Z" fill="#e8e610" opacity="0.95" filter="url(#b2)"/>
<path d="M0,300 L60,300 L100,330 L120,374 L0,374Z" fill="#d6d030" opacity="0.6" filter="url(#b6)"/>
<path d="M28,0 L56,0 L56,64 L28,64Z" fill="#c0bc50" opacity="0.7" filter="url(#b2)"/>
<rect width="373" height="373" filter="url(#texG)" opacity="0.2"/>
<use href="#cloud3" fill="#ffffff"/>
<use href="#r4yel" fill="#d8d820" opacity="0.9"/>
<g clip-path="url(#r4yc)"><rect width="373" height="373" filter="url(#texG)" opacity="0.5"/></g>
<use href="#r4blue" fill="#0808f4"/>
<ellipse cx="302" cy="314" rx="5" ry="1.8" fill="#20207a"/>
<ellipse cx="302" cy="328" rx="5" ry="1.8" fill="#20207a"/>
<ellipse cx="302" cy="338" rx="5" ry="1.6" fill="#20207a"/>
<ellipse cx="324" cy="316" rx="3" ry="2" fill="#20207a"/>
<ellipse cx="337" cy="318" rx="3" ry="1.5" fill="#20207a"/>
<ellipse cx="326" cy="300" rx="4" ry="1.5" fill="#20207a"/></g></g>
<g filter="url(#pix3)"><g transform="translate(0.50,0.00) scale(1.00080,1.00268)"><g clip-path="url(#pc)"><rect width="373" height="373" fill="#fbf800"/>
<use href="#gray" fill="#d4d040" opacity="0.2" filter="url(#b6)"/>
<use href="#yellow2" fill="#fffe00" opacity="0.5" filter="url(#b6)"/>
<rect width="373" height="373" filter="url(#texY)" opacity="0.2"/>
<rect width="373" height="373" filter="url(#texG)" opacity="0.2"/>
<use href="#yellow" fill="#fffe00" opacity="0.6" filter="url(#b3)"/>
<rect width="373" height="373" filter="url(#texG)" opacity="0.07"/>
<path d="M0,0 L150,0 L200,60 L230,180 L215,300 L175,373 L0,373Z" fill="#fce400" opacity="0.22" filter="url(#b8)"/>
<rect width="373" height="373" filter="url(#texO)" opacity="0.4"/>
<rect width="373" height="373" fill="#fcf000" opacity="0.6"/>
<ellipse cx="40" cy="236" rx="30" ry="9" fill="#f8c000" opacity="0.56" filter="url(#b3)"/>
<ellipse cx="36" cy="282" rx="20" ry="7" fill="#f8c000" opacity="0.56" filter="url(#b3)"/>
<ellipse cx="145" cy="304" rx="28" ry="25" fill="#f8c000" opacity="0.28" filter="url(#b3)"/>
<ellipse cx="12" cy="67" rx="14" ry="6" fill="#f8c000" opacity="0.56" filter="url(#b3)"/>
<ellipse cx="97" cy="85" rx="20" ry="7" fill="#f8c000" opacity="0.36" filter="url(#b3)"/>
<ellipse cx="43" cy="160" rx="26" ry="8" fill="#f8c000" opacity="0.40" filter="url(#b3)"/>
<ellipse cx="110" cy="250" rx="20" ry="10" fill="#f8c000" opacity="0.28" filter="url(#b3)"/>
<ellipse cx="60" cy="120" rx="20" ry="8" fill="#f8c000" opacity="0.24" filter="url(#b3)"/>
<path d="M276,268 L290,258 L300,245 L324,238 L374,240 L374,374 L212,374 L230,345 L250,320 L260,295 L270,280Z" fill="#e8e610" opacity="0.95" filter="url(#b2)"/>
<path d="M0,300 L60,300 L100,330 L120,374 L0,374Z" fill="#d6d030" opacity="0.6" filter="url(#b6)"/>
<path d="M28,0 L56,0 L56,64 L28,64Z" fill="#c0bc50" opacity="0.7" filter="url(#b2)"/>
<rect width="373" height="373" filter="url(#texG)" opacity="0.2"/>
<use href="#cloud3" fill="#ffffff"/>
<use href="#r4yel" fill="#d8d820" opacity="0.9"/>
<g clip-path="url(#r4yc)"><rect width="373" height="373" filter="url(#texG)" opacity="0.5"/></g>
<use href="#r4blue" fill="#0808f4"/>
<ellipse cx="302" cy="314" rx="5" ry="1.8" fill="#20207a"/>
<ellipse cx="302" cy="328" rx="5" ry="1.8" fill="#20207a"/>
<ellipse cx="302" cy="338" rx="5" ry="1.6" fill="#20207a"/>
<ellipse cx="324" cy="316" rx="3" ry="2" fill="#20207a"/>
<ellipse cx="337" cy="318" rx="3" ry="1.5" fill="#20207a"/>
<ellipse cx="326" cy="300" rx="4" ry="1.5" fill="#20207a"/></g></g></g>
<g transform="translate(0.50,0.00) scale(1.00080,1.00268)">
<g>
<path d="M321.3,30.6 L283.6,123.8 L320.9,87.3 L357.8,123.8 Z" fill="none" stroke="#fffbe0" stroke-width="5" stroke-linejoin="miter"/>
<path d="M321.3,30.6 L283.6,123.8 L320.9,87.3 Z" fill="#d4d4d4"/>
<path d="M321.3,30.6 L357.8,123.8 L320.9,87.3 Z" fill="#fdfdfd"/>
<path d="M321.3,30.6 L320.9,87.3" stroke="#999" stroke-width="0.8"/>
<path d="M321.3,30.6 L283.6,123.8 L320.9,87.3 L357.8,123.8 Z" fill="none" stroke="#111" stroke-width="2.2" stroke-linejoin="miter"/>
<path d="M312.8,28.3 V4.5 H315.7 L327.0,22.6 V4.5 H329.8 V28.3 H326.9 L315.6,10.2 V28.3 Z" fill="#000"/>
</g>
</g></g>
<g fill="#000" font-size="34.5" stroke="#000" stroke-width="0.45">
<text x="184.6" y="48.2" textLength="235.5" lengthAdjust="spacingAndGlyphs">Climatological</text>
<text x="608.5" y="50.8" textLength="159.5" lengthAdjust="spacingAndGlyphs">Predicted</text>
<text x="1003.7" y="48.3" textLength="133.5" lengthAdjust="spacingAndGlyphs">Original</text>
</g>
<g fill="#000" font-size="35.5" font-weight="bold">
<text transform="translate(62.6,399.4) rotate(-90)" x="0" y="0" textLength="304.5" lengthAdjust="spacingAndGlyphs">14 August 2017</text>
<text transform="translate(65.0,766.8) rotate(-90)" x="0" y="0" textLength="212.6" lengthAdjust="spacingAndGlyphs">9 July 2013</text>
<text transform="translate(66.0,1195.7) rotate(-90)" x="0" y="0" textLength="215.2" lengthAdjust="spacingAndGlyphs">6 July 2015</text>
<text transform="translate(65.6,1627.2) rotate(-90)" x="0" y="0" textLength="245.2" lengthAdjust="spacingAndGlyphs">17 May 2013</text>
</g>
<g fill="#000" stroke="#000" stroke-width="0.3" font-size="25">
<line x1="121.5" y1="93.3" x2="130" y2="93.3" stroke="#222" stroke-width="1.2"/>
<text transform="translate(117.3,117.9) rotate(-90)" textLength="49.5" lengthAdjust="spacingAndGlyphs">63.0</text>
<circle cx="99.3" cy="64.5" r="3.6" fill="none" stroke="#000" stroke-width="1.1"/>
<line x1="1264.8" y1="93.3" x2="1272.8" y2="93.3" stroke="#222" stroke-width="1.2"/>
<text transform="translate(1277.2,69.3) rotate(90)" textLength="49.5" lengthAdjust="spacingAndGlyphs">63.0</text>
<circle cx="1294.5" cy="122.3" r="3.6" fill="none" stroke="#000" stroke-width="1.1"/>
<line x1="121.5" y1="198.4" x2="130" y2="198.4" stroke="#222" stroke-width="1.2"/>
<text transform="translate(117.3,223.0) rotate(-90)" textLength="49.5" lengthAdjust="spacingAndGlyphs">62.7</text>
<circle cx="99.3" cy="169.6" r="3.6" fill="none" stroke="#000" stroke-width="1.1"/>
<line x1="1264.8" y1="198.4" x2="1272.8" y2="198.4" stroke="#222" stroke-width="1.2"/>
<text transform="translate(1277.2,174.4) rotate(90)" textLength="49.5" lengthAdjust="spacingAndGlyphs">62.7</text>
<circle cx="1294.5" cy="227.4" r="3.6" fill="none" stroke="#000" stroke-width="1.1"/>
<line x1="121.5" y1="303.5" x2="130" y2="303.5" stroke="#222" stroke-width="1.2"/>
<text transform="translate(117.3,328.1) rotate(-90)" textLength="49.5" lengthAdjust="spacingAndGlyphs">62.4</text>
<circle cx="99.3" cy="274.7" r="3.6" fill="none" stroke="#000" stroke-width="1.1"/>
<line x1="1264.8" y1="303.5" x2="1272.8" y2="303.5" stroke="#222" stroke-width="1.2"/>
<text transform="translate(1277.2,279.5) rotate(90)" textLength="49.5" lengthAdjust="spacingAndGlyphs">62.4</text>
<circle cx="1294.5" cy="332.5" r="3.6" fill="none" stroke="#000" stroke-width="1.1"/>
<line x1="121.5" y1="408.6" x2="130" y2="408.6" stroke="#222" stroke-width="1.2"/>
<text transform="translate(117.3,433.2) rotate(-90)" textLength="49.5" lengthAdjust="spacingAndGlyphs">62.1</text>
<circle cx="99.3" cy="379.8" r="3.6" fill="none" stroke="#000" stroke-width="1.1"/>
<line x1="1264.8" y1="408.6" x2="1272.8" y2="408.6" stroke="#222" stroke-width="1.2"/>
<text transform="translate(1277.2,384.6) rotate(90)" textLength="49.5" lengthAdjust="spacingAndGlyphs">62.1</text>
<circle cx="1294.5" cy="437.6" r="3.6" fill="none" stroke="#000" stroke-width="1.1"/>
<line x1="228.2" y1="438.1" x2="228.2" y2="446.6" stroke="#222" stroke-width="1.2"/>
<text x="196.6" y="470.1" textLength="63.5" lengthAdjust="spacingAndGlyphs">129.6</text>
<circle cx="264.7" cy="454.1" r="3.5" fill="none" stroke="#000" stroke-width="1.1"/>
<line x1="333.4" y1="438.1" x2="333.4" y2="446.6" stroke="#222" stroke-width="1.2"/>
<text x="301.8" y="470.1" textLength="63.5" lengthAdjust="spacingAndGlyphs">129.9</text>
<circle cx="369.9" cy="454.1" r="3.5" fill="none" stroke="#000" stroke-width="1.1"/>
<line x1="439.3" y1="438.1" x2="439.3" y2="446.6" stroke="#222" stroke-width="1.2"/>
<text x="407.7" y="470.1" textLength="63.5" lengthAdjust="spacingAndGlyphs">130.2</text>
<circle cx="475.8" cy="454.1" r="3.5" fill="none" stroke="#000" stroke-width="1.1"/>
<line x1="609.7" y1="438.1" x2="609.7" y2="446.6" stroke="#222" stroke-width="1.2"/>
<text x="578.1" y="470.1" textLength="63.5" lengthAdjust="spacingAndGlyphs">129.6</text>
<circle cx="646.2" cy="454.1" r="3.5" fill="none" stroke="#000" stroke-width="1.1"/>
<line x1="714.9" y1="438.1" x2="714.9" y2="446.6" stroke="#222" stroke-width="1.2"/>
<text x="683.3" y="470.1" textLength="63.5" lengthAdjust="spacingAndGlyphs">129.9</text>
<circle cx="751.4" cy="454.1" r="3.5" fill="none" stroke="#000" stroke-width="1.1"/>
<line x1="820.8" y1="438.1" x2="820.8" y2="446.6" stroke="#222" stroke-width="1.2"/>
<text x="789.2" y="470.1" textLength="63.5" lengthAdjust="spacingAndGlyphs">130.2</text>
<circle cx="857.3" cy="454.1" r="3.5" fill="none" stroke="#000" stroke-width="1.1"/>
<line x1="989.7" y1="438.1" x2="989.7" y2="446.6" stroke="#222" stroke-width="1.2"/>
<text x="958.1" y="470.1" textLength="63.5" lengthAdjust="spacingAndGlyphs">129.6</text>
<circle cx="1026.2" cy="454.1" r="3.5" fill="none" stroke="#000" stroke-width="1.1"/>
<line x1="1094.9" y1="438.1" x2="1094.9" y2="446.6" stroke="#222" stroke-width="1.2"/>
<text x="1063.3" y="470.1" textLength="63.5" lengthAdjust="spacingAndGlyphs">129.9</text>
<circle cx="1131.4" cy="454.1" r="3.5" fill="none" stroke="#000" stroke-width="1.1"/>
<line x1="1200.8" y1="438.1" x2="1200.8" y2="446.6" stroke="#222" stroke-width="1.2"/>
<text x="1169.2" y="470.1" textLength="63.5" lengthAdjust="spacingAndGlyphs">130.2</text>
<circle cx="1237.3" cy="454.1" r="3.5" fill="none" stroke="#000" stroke-width="1.1"/>
<line x1="121.5" y1="507.2" x2="130" y2="507.2" stroke="#222" stroke-width="1.2"/>
<text transform="translate(117.3,531.8) rotate(-90)" textLength="49.5" lengthAdjust="spacingAndGlyphs">63.0</text>
<circle cx="99.3" cy="478.4" r="3.6" fill="none" stroke="#000" stroke-width="1.1"/>
<line x1="1264.8" y1="507.2" x2="1272.8" y2="507.2" stroke="#222" stroke-width="1.2"/>
<text transform="translate(1277.2,483.2) rotate(90)" textLength="49.5" lengthAdjust="spacingAndGlyphs">63.0</text>
<circle cx="1294.5" cy="536.2" r="3.6" fill="none" stroke="#000" stroke-width="1.1"/>
<line x1="121.5" y1="612.3" x2="130" y2="612.3" stroke="#222" stroke-width="1.2"/>
<text transform="translate(117.3,636.9) rotate(-90)" textLength="49.5" lengthAdjust="spacingAndGlyphs">62.7</text>
<circle cx="99.3" cy="583.5" r="3.6" fill="none" stroke="#000" stroke-width="1.1"/>
<line x1="1264.8" y1="612.3" x2="1272.8" y2="612.3" stroke="#222" stroke-width="1.2"/>
<text transform="translate(1277.2,588.3) rotate(90)" textLength="49.5" lengthAdjust="spacingAndGlyphs">62.7</text>
<circle cx="1294.5" cy="641.3" r="3.6" fill="none" stroke="#000" stroke-width="1.1"/>
<line x1="121.5" y1="717.4" x2="130" y2="717.4" stroke="#222" stroke-width="1.2"/>
<text transform="translate(117.3,742.0) rotate(-90)" textLength="49.5" lengthAdjust="spacingAndGlyphs">62.4</text>
<circle cx="99.3" cy="688.6" r="3.6" fill="none" stroke="#000" stroke-width="1.1"/>
<line x1="1264.8" y1="717.4" x2="1272.8" y2="717.4" stroke="#222" stroke-width="1.2"/>
<text transform="translate(1277.2,693.4) rotate(90)" textLength="49.5" lengthAdjust="spacingAndGlyphs">62.4</text>
<circle cx="1294.5" cy="746.4" r="3.6" fill="none" stroke="#000" stroke-width="1.1"/>
<line x1="121.5" y1="822.5" x2="130" y2="822.5" stroke="#222" stroke-width="1.2"/>
<text transform="translate(117.3,847.1) rotate(-90)" textLength="49.5" lengthAdjust="spacingAndGlyphs">62.1</text>
<circle cx="99.3" cy="793.7" r="3.6" fill="none" stroke="#000" stroke-width="1.1"/>
<line x1="1264.8" y1="822.5" x2="1272.8" y2="822.5" stroke="#222" stroke-width="1.2"/>
<text transform="translate(1277.2,798.5) rotate(90)" textLength="49.5" lengthAdjust="spacingAndGlyphs">62.1</text>
<circle cx="1294.5" cy="851.5" r="3.6" fill="none" stroke="#000" stroke-width="1.1"/>
<line x1="228.2" y1="852.0" x2="228.2" y2="860.5" stroke="#222" stroke-width="1.2"/>
<text x="196.6" y="884.0" textLength="63.5" lengthAdjust="spacingAndGlyphs">129.6</text>
<circle cx="264.7" cy="868.0" r="3.5" fill="none" stroke="#000" stroke-width="1.1"/>
<line x1="333.4" y1="852.0" x2="333.4" y2="860.5" stroke="#222" stroke-width="1.2"/>
<text x="301.8" y="884.0" textLength="63.5" lengthAdjust="spacingAndGlyphs">129.9</text>
<circle cx="369.9" cy="868.0" r="3.5" fill="none" stroke="#000" stroke-width="1.1"/>
<line x1="439.3" y1="852.0" x2="439.3" y2="860.5" stroke="#222" stroke-width="1.2"/>
<text x="407.7" y="884.0" textLength="63.5" lengthAdjust="spacingAndGlyphs">130.2</text>
<circle cx="475.8" cy="868.0" r="3.5" fill="none" stroke="#000" stroke-width="1.1"/>
<line x1="609.7" y1="852.0" x2="609.7" y2="860.5" stroke="#222" stroke-width="1.2"/>
<text x="578.1" y="884.0" textLength="63.5" lengthAdjust="spacingAndGlyphs">129.6</text>
<circle cx="646.2" cy="868.0" r="3.5" fill="none" stroke="#000" stroke-width="1.1"/>
<line x1="714.9" y1="852.0" x2="714.9" y2="860.5" stroke="#222" stroke-width="1.2"/>
<text x="683.3" y="884.0" textLength="63.5" lengthAdjust="spacingAndGlyphs">129.9</text>
<circle cx="751.4" cy="868.0" r="3.5" fill="none" stroke="#000" stroke-width="1.1"/>
<line x1="820.8" y1="852.0" x2="820.8" y2="860.5" stroke="#222" stroke-width="1.2"/>
<text x="789.2" y="884.0" textLength="63.5" lengthAdjust="spacingAndGlyphs">130.2</text>
<circle cx="857.3" cy="868.0" r="3.5" fill="none" stroke="#000" stroke-width="1.1"/>
<line x1="989.7" y1="852.0" x2="989.7" y2="860.5" stroke="#222" stroke-width="1.2"/>
<text x="958.1" y="884.0" textLength="63.5" lengthAdjust="spacingAndGlyphs">129.6</text>
<circle cx="1026.2" cy="868.0" r="3.5" fill="none" stroke="#000" stroke-width="1.1"/>
<line x1="1094.9" y1="852.0" x2="1094.9" y2="860.5" stroke="#222" stroke-width="1.2"/>
<text x="1063.3" y="884.0" textLength="63.5" lengthAdjust="spacingAndGlyphs">129.9</text>
<circle cx="1131.4" cy="868.0" r="3.5" fill="none" stroke="#000" stroke-width="1.1"/>
<line x1="1200.8" y1="852.0" x2="1200.8" y2="860.5" stroke="#222" stroke-width="1.2"/>
<text x="1169.2" y="884.0" textLength="63.5" lengthAdjust="spacingAndGlyphs">130.2</text>
<circle cx="1237.3" cy="868.0" r="3.5" fill="none" stroke="#000" stroke-width="1.1"/>
<line x1="121.5" y1="923.6" x2="130" y2="923.6" stroke="#222" stroke-width="1.2"/>
<text transform="translate(117.3,948.2) rotate(-90)" textLength="49.5" lengthAdjust="spacingAndGlyphs">63.0</text>
<circle cx="99.3" cy="894.8" r="3.6" fill="none" stroke="#000" stroke-width="1.1"/>
<line x1="1264.8" y1="923.6" x2="1272.8" y2="923.6" stroke="#222" stroke-width="1.2"/>
<text transform="translate(1277.2,899.6) rotate(90)" textLength="49.5" lengthAdjust="spacingAndGlyphs">63.0</text>
<circle cx="1294.5" cy="952.6" r="3.6" fill="none" stroke="#000" stroke-width="1.1"/>
<line x1="121.5" y1="1029.0" x2="130" y2="1029.0" stroke="#222" stroke-width="1.2"/>
<text transform="translate(117.3,1053.6) rotate(-90)" textLength="49.5" lengthAdjust="spacingAndGlyphs">62.7</text>
<circle cx="99.3" cy="1000.2" r="3.6" fill="none" stroke="#000" stroke-width="1.1"/>
<line x1="1264.8" y1="1029.0" x2="1272.8" y2="1029.0" stroke="#222" stroke-width="1.2"/>
<text transform="translate(1277.2,1005.0) rotate(90)" textLength="49.5" lengthAdjust="spacingAndGlyphs">62.7</text>
<circle cx="1294.5" cy="1058.0" r="3.6" fill="none" stroke="#000" stroke-width="1.1"/>
<line x1="121.5" y1="1134.3" x2="130" y2="1134.3" stroke="#222" stroke-width="1.2"/>
<text transform="translate(117.3,1158.9) rotate(-90)" textLength="49.5" lengthAdjust="spacingAndGlyphs">62.4</text>
<circle cx="99.3" cy="1105.5" r="3.6" fill="none" stroke="#000" stroke-width="1.1"/>
<line x1="1264.8" y1="1134.3" x2="1272.8" y2="1134.3" stroke="#222" stroke-width="1.2"/>
<text transform="translate(1277.2,1110.3) rotate(90)" textLength="49.5" lengthAdjust="spacingAndGlyphs">62.4</text>
<circle cx="1294.5" cy="1163.3" r="3.6" fill="none" stroke="#000" stroke-width="1.1"/>
<line x1="121.5" y1="1239.7" x2="130" y2="1239.7" stroke="#222" stroke-width="1.2"/>
<text transform="translate(117.3,1264.3) rotate(-90)" textLength="49.5" lengthAdjust="spacingAndGlyphs">62.1</text>
<circle cx="99.3" cy="1210.9" r="3.6" fill="none" stroke="#000" stroke-width="1.1"/>
<line x1="1264.8" y1="1239.7" x2="1272.8" y2="1239.7" stroke="#222" stroke-width="1.2"/>
<text transform="translate(1277.2,1215.7) rotate(90)" textLength="49.5" lengthAdjust="spacingAndGlyphs">62.1</text>
<circle cx="1294.5" cy="1268.7" r="3.6" fill="none" stroke="#000" stroke-width="1.1"/>
<line x1="228.2" y1="1269.3" x2="228.2" y2="1277.8" stroke="#222" stroke-width="1.2"/>
<text x="196.6" y="1301.3" textLength="63.5" lengthAdjust="spacingAndGlyphs">129.6</text>
<circle cx="264.7" cy="1285.3" r="3.5" fill="none" stroke="#000" stroke-width="1.1"/>
<line x1="333.4" y1="1269.3" x2="333.4" y2="1277.8" stroke="#222" stroke-width="1.2"/>
<text x="301.8" y="1301.3" textLength="63.5" lengthAdjust="spacingAndGlyphs">129.9</text>
<circle cx="369.9" cy="1285.3" r="3.5" fill="none" stroke="#000" stroke-width="1.1"/>
<line x1="439.3" y1="1269.3" x2="439.3" y2="1277.8" stroke="#222" stroke-width="1.2"/>
<text x="407.7" y="1301.3" textLength="63.5" lengthAdjust="spacingAndGlyphs">130.2</text>
<circle cx="475.8" cy="1285.3" r="3.5" fill="none" stroke="#000" stroke-width="1.1"/>
<line x1="609.7" y1="1269.3" x2="609.7" y2="1277.8" stroke="#222" stroke-width="1.2"/>
<text x="578.1" y="1301.3" textLength="63.5" lengthAdjust="spacingAndGlyphs">129.6</text>
<circle cx="646.2" cy="1285.3" r="3.5" fill="none" stroke="#000" stroke-width="1.1"/>
<line x1="714.9" y1="1269.3" x2="714.9" y2="1277.8" stroke="#222" stroke-width="1.2"/>
<text x="683.3" y="1301.3" textLength="63.5" lengthAdjust="spacingAndGlyphs">129.9</text>
<circle cx="751.4" cy="1285.3" r="3.5" fill="none" stroke="#000" stroke-width="1.1"/>
<line x1="820.8" y1="1269.3" x2="820.8" y2="1277.8" stroke="#222" stroke-width="1.2"/>
<text x="789.2" y="1301.3" textLength="63.5" lengthAdjust="spacingAndGlyphs">130.2</text>
<circle cx="857.3" cy="1285.3" r="3.5" fill="none" stroke="#000" stroke-width="1.1"/>
<line x1="989.7" y1="1269.3" x2="989.7" y2="1277.8" stroke="#222" stroke-width="1.2"/>
<text x="958.1" y="1301.3" textLength="63.5" lengthAdjust="spacingAndGlyphs">129.6</text>
<circle cx="1026.2" cy="1285.3" r="3.5" fill="none" stroke="#000" stroke-width="1.1"/>
<line x1="1094.9" y1="1269.3" x2="1094.9" y2="1277.8" stroke="#222" stroke-width="1.2"/>
<text x="1063.3" y="1301.3" textLength="63.5" lengthAdjust="spacingAndGlyphs">129.9</text>
<circle cx="1131.4" cy="1285.3" r="3.5" fill="none" stroke="#000" stroke-width="1.1"/>
<line x1="1200.8" y1="1269.3" x2="1200.8" y2="1277.8" stroke="#222" stroke-width="1.2"/>
<text x="1169.2" y="1301.3" textLength="63.5" lengthAdjust="spacingAndGlyphs">130.2</text>
<circle cx="1237.3" cy="1285.3" r="3.5" fill="none" stroke="#000" stroke-width="1.1"/>
<line x1="121.5" y1="1338.8" x2="130" y2="1338.8" stroke="#222" stroke-width="1.2"/>
<text transform="translate(117.3,1363.4) rotate(-90)" textLength="49.5" lengthAdjust="spacingAndGlyphs">63.0</text>
<circle cx="99.3" cy="1310.0" r="3.6" fill="none" stroke="#000" stroke-width="1.1"/>
<line x1="1264.8" y1="1338.8" x2="1272.8" y2="1338.8" stroke="#222" stroke-width="1.2"/>
<text transform="translate(1277.2,1314.8) rotate(90)" textLength="49.5" lengthAdjust="spacingAndGlyphs">63.0</text>
<circle cx="1294.5" cy="1367.8" r="3.6" fill="none" stroke="#000" stroke-width="1.1"/>
<line x1="121.5" y1="1444.0" x2="130" y2="1444.0" stroke="#222" stroke-width="1.2"/>
<text transform="translate(117.3,1468.6) rotate(-90)" textLength="49.5" lengthAdjust="spacingAndGlyphs">62.7</text>
<circle cx="99.3" cy="1415.2" r="3.6" fill="none" stroke="#000" stroke-width="1.1"/>
<line x1="1264.8" y1="1444.0" x2="1272.8" y2="1444.0" stroke="#222" stroke-width="1.2"/>
<text transform="translate(1277.2,1420.0) rotate(90)" textLength="49.5" lengthAdjust="spacingAndGlyphs">62.7</text>
<circle cx="1294.5" cy="1473.0" r="3.6" fill="none" stroke="#000" stroke-width="1.1"/>
<line x1="121.5" y1="1549.3" x2="130" y2="1549.3" stroke="#222" stroke-width="1.2"/>
<text transform="translate(117.3,1573.9) rotate(-90)" textLength="49.5" lengthAdjust="spacingAndGlyphs">62.4</text>
<circle cx="99.3" cy="1520.5" r="3.6" fill="none" stroke="#000" stroke-width="1.1"/>
<line x1="1264.8" y1="1549.3" x2="1272.8" y2="1549.3" stroke="#222" stroke-width="1.2"/>
<text transform="translate(1277.2,1525.3) rotate(90)" textLength="49.5" lengthAdjust="spacingAndGlyphs">62.4</text>
<circle cx="1294.5" cy="1578.3" r="3.6" fill="none" stroke="#000" stroke-width="1.1"/>
<line x1="121.5" y1="1654.5" x2="130" y2="1654.5" stroke="#222" stroke-width="1.2"/>
<text transform="translate(117.3,1679.1) rotate(-90)" textLength="49.5" lengthAdjust="spacingAndGlyphs">62.1</text>
<circle cx="99.3" cy="1625.7" r="3.6" fill="none" stroke="#000" stroke-width="1.1"/>
<line x1="1264.8" y1="1654.5" x2="1272.8" y2="1654.5" stroke="#222" stroke-width="1.2"/>
<text transform="translate(1277.2,1630.5) rotate(90)" textLength="49.5" lengthAdjust="spacingAndGlyphs">62.1</text>
<circle cx="1294.5" cy="1683.5" r="3.6" fill="none" stroke="#000" stroke-width="1.1"/>
<line x1="228.2" y1="1684.0" x2="228.2" y2="1692.5" stroke="#222" stroke-width="1.2"/>
<text x="196.6" y="1716.0" textLength="63.5" lengthAdjust="spacingAndGlyphs">129.6</text>
<circle cx="264.7" cy="1700.0" r="3.5" fill="none" stroke="#000" stroke-width="1.1"/>
<line x1="333.4" y1="1684.0" x2="333.4" y2="1692.5" stroke="#222" stroke-width="1.2"/>
<text x="301.8" y="1716.0" textLength="63.5" lengthAdjust="spacingAndGlyphs">129.9</text>
<circle cx="369.9" cy="1700.0" r="3.5" fill="none" stroke="#000" stroke-width="1.1"/>
<line x1="439.3" y1="1684.0" x2="439.3" y2="1692.5" stroke="#222" stroke-width="1.2"/>
<text x="407.7" y="1716.0" textLength="63.5" lengthAdjust="spacingAndGlyphs">130.2</text>
<circle cx="475.8" cy="1700.0" r="3.5" fill="none" stroke="#000" stroke-width="1.1"/>
<line x1="609.7" y1="1684.0" x2="609.7" y2="1692.5" stroke="#222" stroke-width="1.2"/>
<text x="578.1" y="1716.0" textLength="63.5" lengthAdjust="spacingAndGlyphs">129.6</text>
<circle cx="646.2" cy="1700.0" r="3.5" fill="none" stroke="#000" stroke-width="1.1"/>
<line x1="714.9" y1="1684.0" x2="714.9" y2="1692.5" stroke="#222" stroke-width="1.2"/>
<text x="683.3" y="1716.0" textLength="63.5" lengthAdjust="spacingAndGlyphs">129.9</text>
<circle cx="751.4" cy="1700.0" r="3.5" fill="none" stroke="#000" stroke-width="1.1"/>
<line x1="820.8" y1="1684.0" x2="820.8" y2="1692.5" stroke="#222" stroke-width="1.2"/>
<text x="789.2" y="1716.0" textLength="63.5" lengthAdjust="spacingAndGlyphs">130.2</text>
<circle cx="857.3" cy="1700.0" r="3.5" fill="none" stroke="#000" stroke-width="1.1"/>
<line x1="989.7" y1="1684.0" x2="989.7" y2="1692.5" stroke="#222" stroke-width="1.2"/>
<text x="958.1" y="1716.0" textLength="63.5" lengthAdjust="spacingAndGlyphs">129.6</text>
<circle cx="1026.2" cy="1700.0" r="3.5" fill="none" stroke="#000" stroke-width="1.1"/>
<line x1="1094.9" y1="1684.0" x2="1094.9" y2="1692.5" stroke="#222" stroke-width="1.2"/>
<text x="1063.3" y="1716.0" textLength="63.5" lengthAdjust="spacingAndGlyphs">129.9</text>
<circle cx="1131.4" cy="1700.0" r="3.5" fill="none" stroke="#000" stroke-width="1.1"/>
<line x1="1200.8" y1="1684.0" x2="1200.8" y2="1692.5" stroke="#222" stroke-width="1.2"/>
<text x="1169.2" y="1716.0" textLength="63.5" lengthAdjust="spacingAndGlyphs">130.2</text>
<circle cx="1237.3" cy="1700.0" r="3.5" fill="none" stroke="#000" stroke-width="1.1"/>
</g>
<defs><linearGradient id="cb" x1="0" x2="1" y1="0" y2="0"><stop offset="0" stop-color="#f2d000"/><stop offset="0.1" stop-color="#ffff00"/><stop offset="0.25" stop-color="#d9d400"/><stop offset="0.5" stop-color="#8a8a80"/><stop offset="0.75" stop-color="#4444cc"/><stop offset="0.9" stop-color="#0000ff"/><stop offset="1" stop-color="#0000ff"/></linearGradient></defs>
<text x="92.5" y="1763.8" font-size="35" stroke="#000" stroke-width="1.1" textLength="218" lengthAdjust="spacingAndGlyphs">MODIS NDWI</text>
<text x="322" y="1760" font-size="24" font-weight="bold" textLength="54" lengthAdjust="spacingAndGlyphs">−0.5</text>
<text x="662.5" y="1760" font-size="24" font-weight="bold" textLength="34.5" lengthAdjust="spacingAndGlyphs">0.5</text>
<rect x="391.5" y="1733.5" width="261.5" height="27.5" fill="url(#cb)" stroke="#000" stroke-width="2.2"/>
<rect x="393.5" y="1735.5" width="257.5" height="23.5" fill="none" stroke="#fff" stroke-width="0.8"/>
<g stroke="#000" stroke-width="0.35">
<text x="841.5" y="1760.3" font-size="25" textLength="15" lengthAdjust="spacingAndGlyphs">0</text>
<text x="898" y="1760.3" font-size="25" textLength="29" lengthAdjust="spacingAndGlyphs">20</text>
<text x="961" y="1760.3" font-size="25" textLength="71" lengthAdjust="spacingAndGlyphs">40 km</text>
</g>
<rect x="849" y="1773.5" width="64" height="12.5" fill="#000"/>
<rect x="913" y="1773.5" width="62.5" height="12.5" fill="#fff" stroke="#444" stroke-width="1"/>
<rect x="849" y="1773.5" width="126.5" height="12.5" fill="none" stroke="#222" stroke-width="1"/>
</svg></body></html>
